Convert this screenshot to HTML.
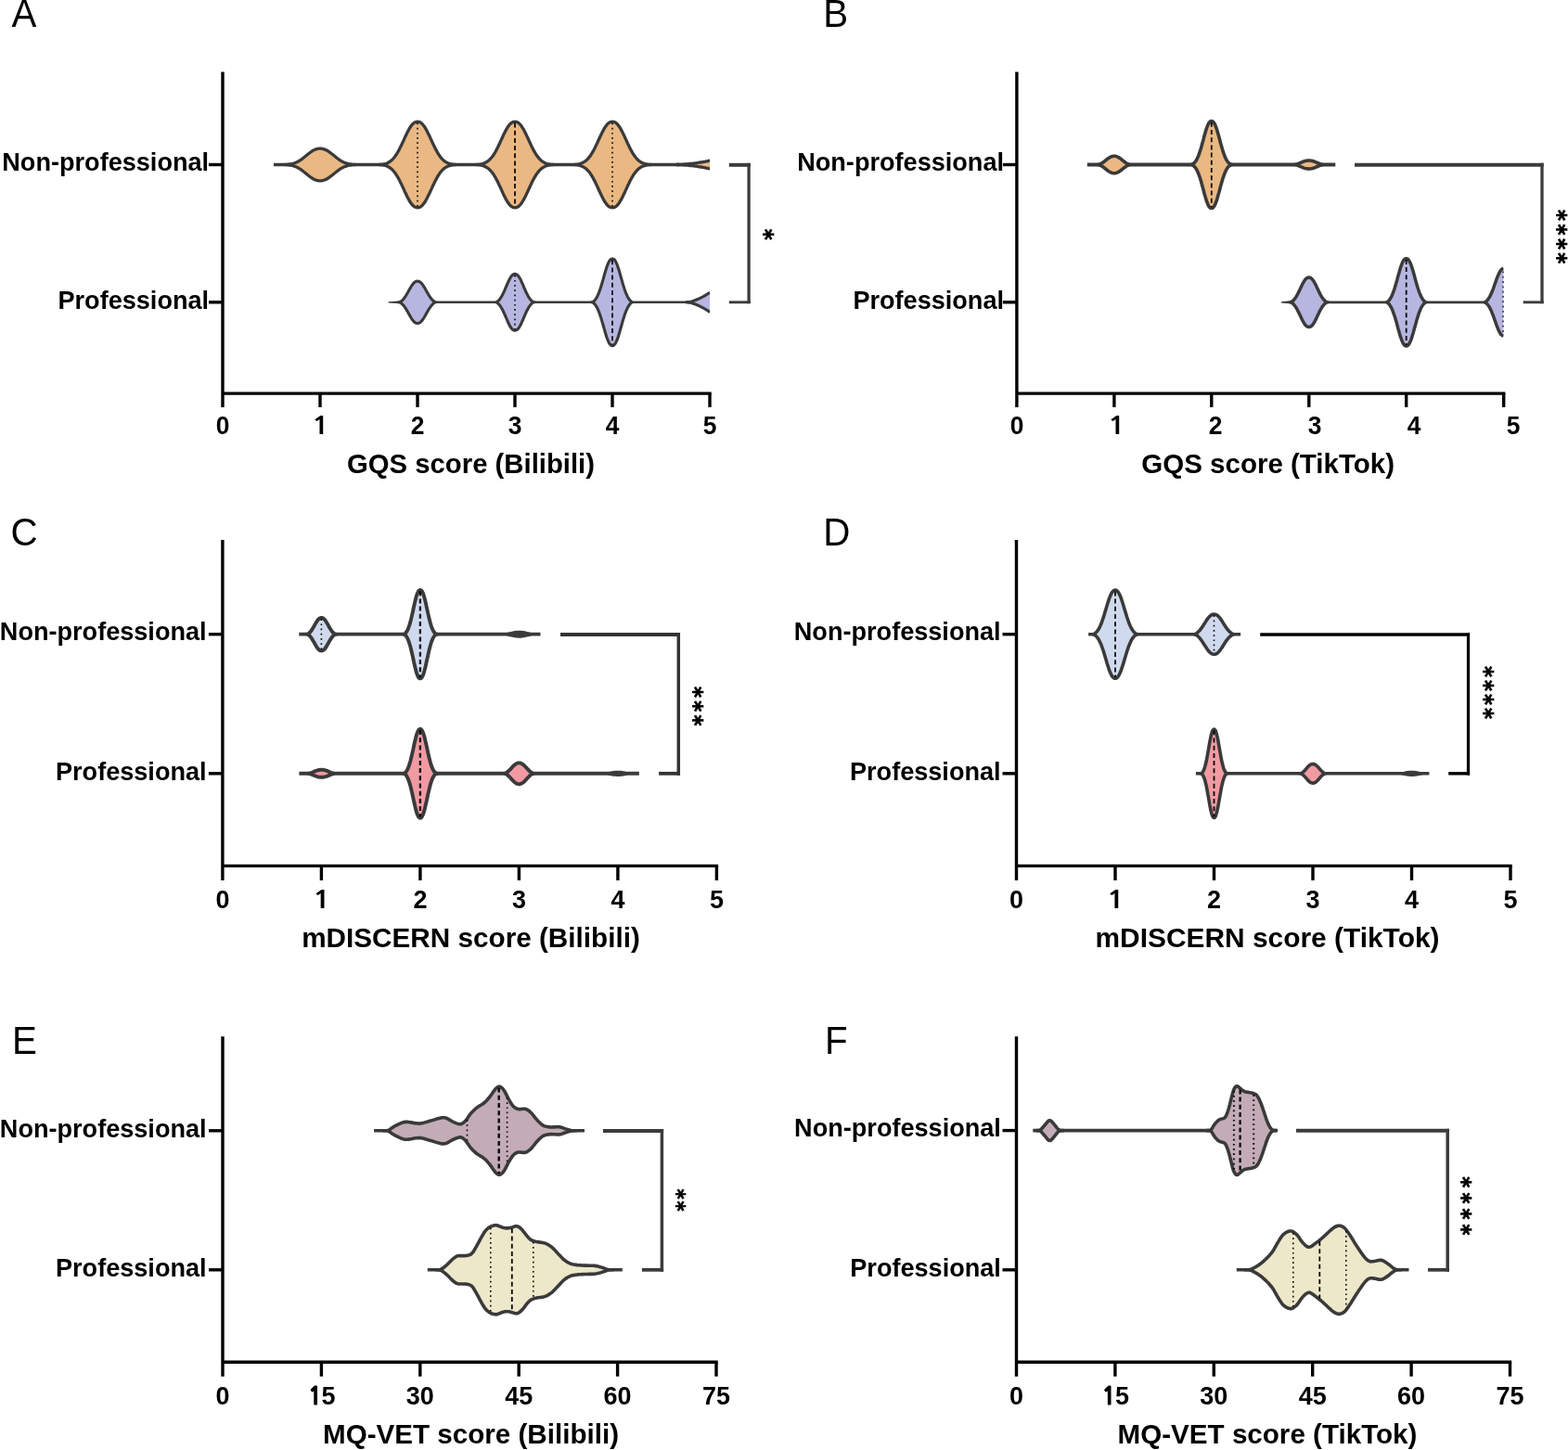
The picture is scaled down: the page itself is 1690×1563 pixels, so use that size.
<!DOCTYPE html>
<html lang="en">
<head>
<meta charset="utf-8">
<title>Violin plots</title>
<style>
html,body{margin:0;padding:0;background:#fff;}
body{width:1690px;height:1563px;overflow:hidden;}
svg{display:block;}
</style>
</head>
<body>
<svg width="1690" height="1563" viewBox="0 0 1690 1563">
<rect width="1690" height="1563" fill="#fff"/>
<g>
<line x1="240" y1="77.5" x2="240" y2="438.9" stroke="#000" stroke-width="3.4"/>
<line x1="240" y1="424.1" x2="766.7" y2="424.1" stroke="#000" stroke-width="3.4"/>
<text transform="translate(240 468) scale(1 1.05)" font-size="26.4" text-anchor="middle" font-family="Liberation Sans, Arial, Helvetica, sans-serif" font-weight="700" fill="#000">0</text>
<line x1="345" y1="424.1" x2="345" y2="438.9" stroke="#000" stroke-width="3.4"/>
<text transform="translate(334.9 468) scale(1.4 1.05)" font-family="NanumGothic, Liberation Sans, sans-serif" font-weight="700" font-size="24.9" fill="#000">1</text>
<line x1="450" y1="424.1" x2="450" y2="438.9" stroke="#000" stroke-width="3.4"/>
<text transform="translate(450 468) scale(1 1.05)" font-size="26.4" text-anchor="middle" font-family="Liberation Sans, Arial, Helvetica, sans-serif" font-weight="700" fill="#000">2</text>
<line x1="555" y1="424.1" x2="555" y2="438.9" stroke="#000" stroke-width="3.4"/>
<text transform="translate(555 468) scale(1 1.05)" font-size="26.4" text-anchor="middle" font-family="Liberation Sans, Arial, Helvetica, sans-serif" font-weight="700" fill="#000">3</text>
<line x1="660" y1="424.1" x2="660" y2="438.9" stroke="#000" stroke-width="3.4"/>
<text transform="translate(660 468) scale(1 1.05)" font-size="26.4" text-anchor="middle" font-family="Liberation Sans, Arial, Helvetica, sans-serif" font-weight="700" fill="#000">4</text>
<line x1="765" y1="424.1" x2="765" y2="438.9" stroke="#000" stroke-width="3.4"/>
<text transform="translate(765 468) scale(1 1.05)" font-size="26.4" text-anchor="middle" font-family="Liberation Sans, Arial, Helvetica, sans-serif" font-weight="700" fill="#000">5</text>
<line x1="225" y1="177.5" x2="240" y2="177.5" stroke="#000" stroke-width="3.4"/>
<text x="225.1" y="184.2" font-size="27.1" text-anchor="end" font-family="Liberation Sans, Arial, Helvetica, sans-serif" font-weight="700" fill="#000" letter-spacing="0">Non-professional</text>
<line x1="225" y1="325.8" x2="240" y2="325.8" stroke="#000" stroke-width="3.4"/>
<text x="225.1" y="332.5" font-size="27.1" text-anchor="end" font-family="Liberation Sans, Arial, Helvetica, sans-serif" font-weight="700" fill="#000" letter-spacing="0">Professional</text>
<text x="507.5" y="510.1" font-size="29.3" text-anchor="middle" font-family="Liberation Sans, Arial, Helvetica, sans-serif" font-weight="700" fill="#000" letter-spacing="0">GQS score (Bilibili)</text>
<text transform="translate(12.4 29.4) scale(0.96 1)" font-size="42" font-family="Liberation Sans, Arial, Helvetica, sans-serif" font-weight="400" fill="#000">A</text>
<line x1="295" y1="177.5" x2="765.2" y2="177.5" stroke="#3a3a3a" stroke-width="3.4"/>
<path d="M307.5 177.5L308.8 177.5L310 177.3L311.3 177.2L312.5 177L313.8 176.8L315 176.5L316.3 176.1L317.5 175.7L318.8 175.2L320 174.7L321.3 174.1L322.5 173.3L323.8 172.6L325 171.7L326.3 170.8L327.5 169.8L328.8 168.8L330 167.8L331.3 166.7L332.5 165.7L333.8 164.7L335 163.8L336.3 163L337.5 162.2L338.8 161.6L340 161.1L341.3 160.7L342.5 160.4L343.8 160.2L345 160.2L346.3 160.2L347.5 160.4L348.8 160.7L350 161.1L351.3 161.6L352.5 162.2L353.8 163L355 163.9L356.3 164.8L357.5 165.8L358.8 166.8L360 167.8L361.3 168.8L362.5 169.8L363.8 170.8L365 171.7L366.3 172.6L367.5 173.4L368.8 174.1L370 174.7L371.3 175.3L372.5 175.7L373.8 176.1L375 176.5L376.3 176.8L377.5 177L378.8 177.2L380 177.3L381.3 177.5L382.5 177.5L381.3 177.5L380 177.7L378.8 177.8L377.5 178L376.3 178.2L375 178.5L373.8 178.9L372.5 179.3L371.3 179.7L370 180.3L368.8 180.9L367.5 181.6L366.3 182.4L365 183.3L363.8 184.2L362.5 185.2L361.3 186.2L360 187.2L358.8 188.2L357.5 189.2L356.3 190.2L355 191.1L353.8 192L352.5 192.8L351.3 193.4L350 193.9L348.8 194.3L347.5 194.6L346.3 194.8L345 194.8L343.8 194.8L342.5 194.6L341.3 194.3L340 193.9L338.8 193.4L337.5 192.8L336.3 192L335 191.2L333.8 190.3L332.5 189.3L331.3 188.3L330 187.2L328.8 186.2L327.5 185.2L326.3 184.2L325 183.3L323.8 182.4L322.5 181.7L321.3 180.9L320 180.3L318.8 179.8L317.5 179.3L316.3 178.9L315 178.5L313.8 178.2L312.5 178L311.3 177.8L310 177.7L308.8 177.5Z" fill="#eab882" stroke="#3a3a3a" stroke-width="3.3" stroke-linejoin="round"/>
<path d="M408.8 177.5L410 177.4L411.3 177.3L412.6 177.1L413.8 176.9L415.1 176.6L416.3 176.2L417.6 175.7L418.8 175L420.1 174.3L421.3 173.4L422.6 172.3L423.8 171L425.1 169.5L426.3 167.8L427.6 165.9L428.8 163.9L430.1 161.6L431.3 159.1L432.6 156.6L433.8 153.9L435.1 151.2L436.3 148.4L437.6 145.7L438.8 143.1L440.1 140.7L441.3 138.5L442.6 136.5L443.8 134.8L445.1 133.4L446.3 132.4L447.6 131.7L448.8 131.3L450.1 131.2L451.3 131.3L452.6 131.7L453.8 132.5L455.1 133.6L456.3 135L457.6 136.7L458.8 138.7L460.1 141L461.3 143.4L462.6 146L463.8 148.7L465.1 151.4L466.3 154.2L467.6 156.8L468.8 159.4L470.1 161.8L471.3 164.1L472.6 166.2L473.8 168L475.1 169.7L476.3 171.1L477.6 172.4L478.8 173.5L480.1 174.4L481.3 175.1L482.6 175.7L483.8 176.2L485.1 176.6L486.3 176.9L487.6 177.1L488.8 177.3L490.1 177.5L491.3 177.5L490.1 177.5L488.8 177.7L487.6 177.9L486.3 178.1L485.1 178.4L483.8 178.8L482.6 179.3L481.3 179.9L480.1 180.6L478.8 181.5L477.6 182.6L476.3 183.9L475.1 185.3L473.8 187L472.6 188.8L471.3 190.9L470.1 193.2L468.8 195.6L467.6 198.2L466.3 200.8L465.1 203.6L463.8 206.3L462.6 209L461.3 211.6L460.1 214L458.8 216.3L457.6 218.3L456.3 220L455.1 221.4L453.8 222.5L452.6 223.3L451.3 223.7L450.1 223.8L448.8 223.7L447.6 223.3L446.3 222.6L445.1 221.6L443.8 220.2L442.6 218.5L441.3 216.5L440.1 214.3L438.8 211.9L437.6 209.3L436.3 206.6L435.1 203.8L433.8 201.1L432.6 198.4L431.3 195.9L430.1 193.4L428.8 191.1L427.6 189.1L426.3 187.2L425.1 185.5L423.8 184L422.6 182.7L421.3 181.6L420.1 180.7L418.8 180L417.6 179.3L416.3 178.8L415.1 178.4L413.8 178.1L412.6 177.9L411.3 177.7L410 177.6Z" fill="#eab882" stroke="#3a3a3a" stroke-width="3.3" stroke-linejoin="round"/>
<path d="M513.8 177.5L515.1 177.4L516.3 177.3L517.6 177.1L518.8 176.9L520.1 176.5L521.3 176.1L522.6 175.6L523.8 175L525.1 174.2L526.3 173.3L527.6 172.2L528.8 170.9L530.1 169.5L531.4 167.8L532.6 165.9L533.9 163.8L535.1 161.5L536.4 159.1L537.6 156.5L538.9 153.8L540.1 151.1L541.4 148.3L542.6 145.6L543.9 143L545.1 140.6L546.4 138.4L547.6 136.4L548.9 134.7L550.1 133.4L551.4 132.4L552.6 131.7L553.9 131.3L555.1 131.2L556.4 131.3L557.6 131.8L558.9 132.5L560.1 133.6L561.4 135L562.6 136.8L563.9 138.8L565.1 141L566.4 143.5L567.6 146.1L568.9 148.8L570.1 151.5L571.4 154.3L572.6 156.9L573.9 159.5L575.1 161.9L576.4 164.2L577.6 166.2L578.9 168.1L580.1 169.7L581.4 171.2L582.6 172.4L583.9 173.5L585.1 174.4L586.4 175.1L587.6 175.7L588.9 176.2L590.1 176.6L591.4 176.9L592.6 177.1L593.9 177.3L595.1 177.5L596.4 177.5L595.1 177.5L593.9 177.7L592.6 177.9L591.4 178.1L590.1 178.4L588.9 178.8L587.6 179.3L586.4 179.9L585.1 180.6L583.9 181.5L582.6 182.6L581.4 183.8L580.1 185.3L578.9 186.9L577.6 188.8L576.4 190.8L575.1 193.1L573.9 195.5L572.6 198.1L571.4 200.7L570.1 203.5L568.9 206.2L567.6 208.9L566.4 211.5L565.1 214L563.9 216.2L562.6 218.2L561.4 220L560.1 221.4L558.9 222.5L557.6 223.2L556.4 223.7L555.1 223.8L553.9 223.7L552.6 223.3L551.4 222.6L550.1 221.6L548.9 220.3L547.6 218.6L546.4 216.6L545.1 214.4L543.9 212L542.6 209.4L541.4 206.7L540.1 203.9L538.9 201.2L537.6 198.5L536.4 195.9L535.1 193.5L533.9 191.2L532.6 189.1L531.4 187.2L530.1 185.5L528.8 184.1L527.6 182.8L526.3 181.7L525.1 180.8L523.8 180L522.6 179.4L521.3 178.9L520.1 178.5L518.8 178.1L517.6 177.9L516.3 177.7L515.1 177.6Z" fill="#eab882" stroke="#3a3a3a" stroke-width="3.3" stroke-linejoin="round"/>
<path d="M618.9 177.5L620.1 177.4L621.4 177.3L622.6 177.1L623.9 176.9L625.1 176.5L626.4 176.1L627.6 175.6L628.9 175L630.1 174.2L631.4 173.3L632.6 172.2L633.9 170.9L635.1 169.4L636.4 167.7L637.6 165.8L638.9 163.7L640.1 161.4L641.4 159L642.6 156.4L643.9 153.7L645.1 151L646.4 148.2L647.7 145.5L648.9 143L650.2 140.5L651.4 138.3L652.7 136.4L653.9 134.7L655.2 133.3L656.4 132.3L657.7 131.6L658.9 131.3L660.2 131.2L661.4 131.3L662.7 131.8L663.9 132.5L665.2 133.6L666.4 135.1L667.7 136.8L668.9 138.8L670.2 141.1L671.4 143.6L672.7 146.2L673.9 148.9L675.2 151.6L676.4 154.4L677.7 157L678.9 159.6L680.2 162L681.4 164.2L682.7 166.3L683.9 168.1L685.2 169.8L686.4 171.2L687.7 172.5L688.9 173.5L690.2 174.4L691.4 175.2L692.7 175.8L693.9 176.2L695.2 176.6L696.4 176.9L697.7 177.2L698.9 177.3L700.2 177.5L701.4 177.5L700.2 177.5L698.9 177.7L697.7 177.8L696.4 178.1L695.2 178.4L693.9 178.8L692.7 179.2L691.4 179.8L690.2 180.6L688.9 181.5L687.7 182.5L686.4 183.8L685.2 185.2L683.9 186.9L682.7 188.7L681.4 190.8L680.2 193L678.9 195.4L677.7 198L676.4 200.6L675.2 203.4L673.9 206.1L672.7 208.8L671.4 211.4L670.2 213.9L668.9 216.2L667.7 218.2L666.4 219.9L665.2 221.4L663.9 222.5L662.7 223.2L661.4 223.7L660.2 223.8L658.9 223.7L657.7 223.4L656.4 222.7L655.2 221.7L653.9 220.3L652.7 218.6L651.4 216.7L650.2 214.5L648.9 212L647.7 209.5L646.4 206.8L645.1 204L643.9 201.3L642.6 198.6L641.4 196L640.1 193.6L638.9 191.3L637.6 189.2L636.4 187.3L635.1 185.6L633.9 184.1L632.6 182.8L631.4 181.7L630.1 180.8L628.9 180L627.6 179.4L626.4 178.9L625.1 178.5L623.9 178.1L622.6 177.9L621.4 177.7L620.1 177.6Z" fill="#eab882" stroke="#3a3a3a" stroke-width="3.3" stroke-linejoin="round"/>
<path d="M728.9 177.5L730.2 177.5L731.4 177.5L732.7 177.4L733.9 177.4L735.2 177.3L736.4 177.2L737.7 177.1L738.9 177L740.2 176.9L741.4 176.8L742.7 176.7L743.9 176.5L745.2 176.4L746.4 176.3L747.7 176.1L748.9 175.9L750.2 175.8L751.4 175.6L752.7 175.4L753.9 175.2L755.2 175L756.4 174.8L757.7 174.6L758.9 174.4L760.2 174.2L761.4 173.9L762.7 173.7L763.9 173.4L765.2 173.2L765.2 181.8L763.9 181.6L762.7 181.3L761.4 181.1L760.2 180.8L758.9 180.6L757.7 180.4L756.4 180.2L755.2 180L753.9 179.8L752.7 179.6L751.4 179.4L750.2 179.2L748.9 179.1L747.7 178.9L746.4 178.7L745.2 178.6L743.9 178.5L742.7 178.3L741.4 178.2L740.2 178.1L738.9 178L737.7 177.9L736.4 177.8L735.2 177.7L733.9 177.6L732.7 177.6L731.4 177.5L730.2 177.5L728.9 177.5Z" fill="#eab882"/>
<path d="M728.9 177.5L730.2 177.5L731.4 177.5L732.7 177.4L733.9 177.4L735.2 177.3L736.4 177.2L737.7 177.1L738.9 177L740.2 176.9L741.4 176.8L742.7 176.7L743.9 176.5L745.2 176.4L746.4 176.3L747.7 176.1L748.9 175.9L750.2 175.8L751.4 175.6L752.7 175.4L753.9 175.2L755.2 175L756.4 174.8L757.7 174.6L758.9 174.4L760.2 174.2L761.4 173.9L762.7 173.7L763.9 173.4L765.2 173.2" fill="none" stroke="#3a3a3a" stroke-width="3.3" stroke-linejoin="round"/>
<path d="M728.9 177.5L730.2 177.5L731.4 177.5L732.7 177.6L733.9 177.6L735.2 177.7L736.4 177.8L737.7 177.9L738.9 178L740.2 178.1L741.4 178.2L742.7 178.3L743.9 178.5L745.2 178.6L746.4 178.7L747.7 178.9L748.9 179.1L750.2 179.2L751.4 179.4L752.7 179.6L753.9 179.8L755.2 180L756.4 180.2L757.7 180.4L758.9 180.6L760.2 180.8L761.4 181.1L762.7 181.3L763.9 181.6L765.2 181.8" fill="none" stroke="#3a3a3a" stroke-width="3.3" stroke-linejoin="round"/>
<rect x="765.2" y="168.2" width="4" height="18.6" fill="#fff"/>
<line x1="450" y1="132.5" x2="450" y2="222.5" stroke="#0a0a0a" stroke-width="1.6" stroke-dasharray="1.7 3.5"/>
<line x1="555" y1="132.5" x2="555" y2="222.5" stroke="#0a0a0a" stroke-width="1.8" stroke-dasharray="5 3.2"/>
<line x1="660" y1="132.5" x2="660" y2="222.5" stroke="#0a0a0a" stroke-width="1.6" stroke-dasharray="1.7 3.5"/>
<path d="M418.5 325.2L431.8 324.3L431.8 327.3L418.5 326.4Z" fill="#3a3a3a"/>
<line x1="429.8" y1="325.8" x2="765.2" y2="325.8" stroke="#3a3a3a" stroke-width="2.4"/>
<path d="M429.8 325.8L431 325.7L432.3 324.9L433.5 323.8L434.8 322.5L436 320.9L437.3 319.1L438.5 317L439.8 314.8L441 312.5L442.3 310.3L443.5 308.3L444.8 306.5L446 305L447.3 303.9L448.5 303.3L449.8 303.1L451 303.2L452.3 303.7L453.5 304.6L454.8 305.9L456 307.6L457.3 309.6L458.6 311.8L459.8 314.1L461.1 316.3L462.3 318.4L463.6 320.3L464.8 322L466.1 323.4L467.3 324.6L468.6 325.5L469.8 325.8L468.6 326.1L467.3 327L466.1 328.2L464.8 329.6L463.6 331.3L462.3 333.2L461.1 335.3L459.8 337.5L458.6 339.8L457.3 342L456 344L454.8 345.7L453.5 347L452.3 347.9L451 348.4L449.8 348.5L448.5 348.3L447.3 347.7L446 346.6L444.8 345.1L443.5 343.3L442.3 341.3L441 339.1L439.8 336.8L438.5 334.6L437.3 332.5L436 330.7L434.8 329.1L433.5 327.8L432.3 326.7L431 325.9Z" fill="#b7b6e1" stroke="#3a3a3a" stroke-width="3.1" stroke-linejoin="round"/>
<path d="M534.9 325.8L536.2 325L537.4 323.9L538.7 322.4L539.9 320.6L541.2 318.5L542.4 316.1L543.7 313.3L544.9 310.4L546.2 307.5L547.4 304.6L548.7 301.9L549.9 299.6L551.2 297.7L552.4 296.4L553.7 295.6L554.9 295.4L556.2 295.6L557.4 296.3L558.7 297.5L559.9 299.3L561.2 301.6L562.4 304.3L563.7 307.1L564.9 310.1L566.2 313L567.4 315.8L568.7 318.2L569.9 320.4L571.2 322.2L572.4 323.7L573.7 324.9L575 325.8L576.2 325.8L575 325.8L573.7 326.7L572.4 327.9L571.2 329.4L569.9 331.2L568.7 333.4L567.4 335.8L566.2 338.6L564.9 341.5L563.7 344.5L562.4 347.3L561.2 350L559.9 352.3L558.7 354.1L557.4 355.3L556.2 356L554.9 356.2L553.7 356L552.4 355.2L551.2 353.9L549.9 352L548.7 349.7L547.4 347L546.2 344.1L544.9 341.2L543.7 338.3L542.4 335.5L541.2 333.1L539.9 331L538.7 329.2L537.4 327.7L536.2 326.6Z" fill="#b7b6e1" stroke="#3a3a3a" stroke-width="3.1" stroke-linejoin="round"/>
<path d="M637.5 325.8L638.8 325.7L640 324.8L641.3 323.5L642.5 321.7L643.8 319.5L645 316.7L646.3 313.4L647.5 309.7L648.8 305.5L650.1 301.1L651.3 296.7L652.6 292.3L653.8 288.3L655.1 284.9L656.3 282.1L657.6 280.2L658.8 279.2L660.1 278.9L661.3 279.2L662.6 280.4L663.8 282.4L665.1 285.2L666.3 288.7L667.6 292.8L668.8 297.1L670.1 301.6L671.3 306L672.6 310.1L673.8 313.8L675.1 317L676.3 319.7L677.6 321.9L678.8 323.6L680.1 324.9L681.3 325.8L680.1 326.7L678.8 328L677.6 329.7L676.3 331.9L675.1 334.6L673.8 337.8L672.6 341.5L671.3 345.6L670.1 350L668.8 354.5L667.6 358.8L666.3 362.9L665.1 366.4L663.8 369.2L662.6 371.2L661.3 372.4L660.1 372.7L658.8 372.4L657.6 371.4L656.3 369.5L655.1 366.7L653.8 363.3L652.6 359.3L651.3 354.9L650.1 350.5L648.8 346.1L647.5 341.9L646.3 338.2L645 334.9L643.8 332.1L642.5 329.9L641.3 328.1L640 326.8L638.8 325.9Z" fill="#b7b6e1" stroke="#3a3a3a" stroke-width="3.1" stroke-linejoin="round"/>
<path d="M738.9 325.8L740.2 325.8L741.4 325.7L742.7 325.5L743.9 325.3L745.2 325L746.4 324.6L747.7 324.2L748.9 323.8L750.2 323.3L751.4 322.8L752.7 322.3L753.9 321.7L755.2 321.1L756.4 320.4L757.7 319.8L758.9 319.1L760.2 318.4L761.4 317.6L762.7 316.8L763.9 316L765.2 315.2L765.2 336.4L763.9 335.6L762.7 334.8L761.4 334L760.2 333.2L758.9 332.5L757.7 331.8L756.4 331.2L755.2 330.5L753.9 329.9L752.7 329.3L751.4 328.8L750.2 328.3L748.9 327.8L747.7 327.4L746.4 327L745.2 326.6L743.9 326.3L742.7 326.1L741.4 325.9L740.2 325.8L738.9 325.8Z" fill="#b7b6e1"/>
<path d="M738.9 325.8L740.2 325.8L741.4 325.7L742.7 325.5L743.9 325.3L745.2 325L746.4 324.6L747.7 324.2L748.9 323.8L750.2 323.3L751.4 322.8L752.7 322.3L753.9 321.7L755.2 321.1L756.4 320.4L757.7 319.8L758.9 319.1L760.2 318.4L761.4 317.6L762.7 316.8L763.9 316L765.2 315.2" fill="none" stroke="#3a3a3a" stroke-width="3.1" stroke-linejoin="round"/>
<path d="M738.9 325.8L740.2 325.8L741.4 325.9L742.7 326.1L743.9 326.3L745.2 326.6L746.4 327L747.7 327.4L748.9 327.8L750.2 328.3L751.4 328.8L752.7 329.3L753.9 329.9L755.2 330.5L756.4 331.2L757.7 331.8L758.9 332.5L760.2 333.2L761.4 334L762.7 334.8L763.9 335.6L765.2 336.4" fill="none" stroke="#3a3a3a" stroke-width="3.1" stroke-linejoin="round"/>
<rect x="765.2" y="310.2" width="4" height="31.2" fill="#fff"/>
<line x1="555" y1="296.7" x2="555" y2="354.9" stroke="#0a0a0a" stroke-width="1.6" stroke-dasharray="1.7 3.5"/>
<line x1="660" y1="280.2" x2="660" y2="371.4" stroke="#0a0a0a" stroke-width="1.8" stroke-dasharray="5 3.2"/>
<line x1="807.1" y1="175.8" x2="807.1" y2="327.2" stroke="#3c3c3c" stroke-width="3.3"/>
<line x1="785.8" y1="177.8" x2="808.8" y2="177.8" stroke="#3c3c3c" stroke-width="4"/>
<line x1="785.8" y1="325.8" x2="808.8" y2="325.8" stroke="#3c3c3c" stroke-width="2.9"/>
<text transform="translate(815.8 246.7) rotate(90) scale(0.95 1.04)" font-family="DejaVu Sans, Liberation Sans, sans-serif" font-weight="700" font-size="24.2" letter-spacing="3.13" fill="#000" stroke="#000" stroke-width="0.7">*</text>
</g>
<g>
<line x1="1095.9" y1="77.5" x2="1095.9" y2="438.9" stroke="#000" stroke-width="3.4"/>
<line x1="1095.9" y1="424.1" x2="1622.4" y2="424.1" stroke="#000" stroke-width="3.4"/>
<text transform="translate(1096 468) scale(1 1.05)" font-size="26.4" text-anchor="middle" font-family="Liberation Sans, Arial, Helvetica, sans-serif" font-weight="700" fill="#000">0</text>
<line x1="1200.9" y1="424.1" x2="1200.9" y2="438.9" stroke="#000" stroke-width="3.4"/>
<text transform="translate(1192.9 468) scale(1.4 1.05)" font-family="NanumGothic, Liberation Sans, sans-serif" font-weight="700" font-size="24.9" fill="#000">1</text>
<line x1="1305.8" y1="424.1" x2="1305.8" y2="438.9" stroke="#000" stroke-width="3.4"/>
<text transform="translate(1310 468) scale(1 1.05)" font-size="26.4" text-anchor="middle" font-family="Liberation Sans, Arial, Helvetica, sans-serif" font-weight="700" fill="#000">2</text>
<line x1="1410.8" y1="424.1" x2="1410.8" y2="438.9" stroke="#000" stroke-width="3.4"/>
<text transform="translate(1417 468) scale(1 1.05)" font-size="26.4" text-anchor="middle" font-family="Liberation Sans, Arial, Helvetica, sans-serif" font-weight="700" fill="#000">3</text>
<line x1="1515.7" y1="424.1" x2="1515.7" y2="438.9" stroke="#000" stroke-width="3.4"/>
<text transform="translate(1524 468) scale(1 1.05)" font-size="26.4" text-anchor="middle" font-family="Liberation Sans, Arial, Helvetica, sans-serif" font-weight="700" fill="#000">4</text>
<line x1="1620.7" y1="424.1" x2="1620.7" y2="438.9" stroke="#000" stroke-width="3.4"/>
<text transform="translate(1631 468) scale(1 1.05)" font-size="26.4" text-anchor="middle" font-family="Liberation Sans, Arial, Helvetica, sans-serif" font-weight="700" fill="#000">5</text>
<line x1="1080.9" y1="177.5" x2="1095.9" y2="177.5" stroke="#000" stroke-width="3.4"/>
<text x="1082" y="184.2" font-size="27.1" text-anchor="end" font-family="Liberation Sans, Arial, Helvetica, sans-serif" font-weight="700" fill="#000" letter-spacing="0">Non-professional</text>
<line x1="1080.9" y1="325.8" x2="1095.9" y2="325.8" stroke="#000" stroke-width="3.4"/>
<text x="1082" y="332.5" font-size="27.1" text-anchor="end" font-family="Liberation Sans, Arial, Helvetica, sans-serif" font-weight="700" fill="#000" letter-spacing="0">Professional</text>
<text x="1366.7" y="510.1" font-size="29.5" text-anchor="middle" font-family="Liberation Sans, Arial, Helvetica, sans-serif" font-weight="700" fill="#000" letter-spacing="0">GQS score (TikTok)</text>
<text transform="translate(887.2 29.4) scale(0.96 1)" font-size="42" font-family="Liberation Sans, Arial, Helvetica, sans-serif" font-weight="400" fill="#000">B</text>
<line x1="1171.8" y1="177.5" x2="1439.3" y2="177.5" stroke="#3a3a3a" stroke-width="4.1"/>
<path d="M1183 177.5L1184.3 177.5L1185.5 177L1186.8 176.4L1188 175.6L1189.3 174.8L1190.5 173.8L1191.8 172.8L1193 171.8L1194.3 170.8L1195.5 170L1196.8 169.3L1198 168.7L1199.3 168.4L1200.5 168.3L1201.8 168.3L1203 168.6L1204.3 169L1205.5 169.6L1206.8 170.4L1208 171.3L1209.3 172.3L1210.5 173.3L1211.8 174.3L1213 175.2L1214.3 176L1215.5 176.7L1216.8 177.3L1218 177.5L1216.8 177.7L1215.5 178.3L1214.3 179L1213 179.8L1211.8 180.7L1210.5 181.7L1209.3 182.7L1208 183.7L1206.8 184.6L1205.5 185.4L1204.3 186L1203 186.4L1201.8 186.7L1200.5 186.7L1199.3 186.6L1198 186.3L1196.8 185.7L1195.5 185L1194.3 184.2L1193 183.2L1191.8 182.2L1190.5 181.2L1189.3 180.2L1188 179.4L1186.8 178.6L1185.5 178L1184.3 177.5Z" fill="#eab882" stroke="#3a3a3a" stroke-width="3.6" stroke-linejoin="round"/>
<path d="M1284.3 177.5L1285.5 177L1286.8 176L1288 174.7L1289.3 172.9L1290.5 170.6L1291.8 167.7L1293 164.2L1294.3 160.2L1295.5 155.8L1296.8 151.2L1298 146.5L1299.3 142L1300.5 138.1L1301.8 134.8L1303 132.4L1304.3 131L1305.5 130.5L1306.8 130.7L1308 131.8L1309.3 133.8L1310.5 136.7L1311.8 140.4L1313 144.7L1314.3 149.3L1315.5 154L1316.8 158.5L1318 162.7L1319.3 166.4L1320.5 169.5L1321.8 172.1L1323 174.1L1324.3 175.6L1325.5 176.6L1326.8 177.4L1328 177.5L1326.8 177.6L1325.5 178.4L1324.3 179.4L1323 180.9L1321.8 182.9L1320.5 185.5L1319.3 188.6L1318 192.3L1316.8 196.5L1315.5 201L1314.3 205.7L1313 210.3L1311.8 214.6L1310.5 218.3L1309.3 221.2L1308 223.2L1306.8 224.3L1305.5 224.5L1304.3 224L1303 222.6L1301.8 220.2L1300.5 216.9L1299.3 213L1298 208.5L1296.8 203.8L1295.5 199.2L1294.3 194.8L1293 190.8L1291.8 187.3L1290.5 184.4L1289.3 182.1L1288 180.3L1286.8 179L1285.5 178Z" fill="#eab882" stroke="#3a3a3a" stroke-width="3.6" stroke-linejoin="round"/>
<path d="M1395.5 177.5L1396.8 177.4L1398 177L1399.3 176.5L1400.5 176L1401.8 175.4L1403 174.9L1404.3 174.3L1405.5 173.9L1406.8 173.5L1408 173.2L1409.3 173.1L1410.5 173L1411.8 173L1413 173.2L1414.3 173.4L1415.5 173.7L1416.8 174.2L1418 174.7L1419.3 175.2L1420.5 175.8L1421.8 176.3L1423 176.8L1424.3 177.3L1425.5 177.5L1424.3 177.7L1423 178.2L1421.8 178.7L1420.5 179.2L1419.3 179.8L1418 180.3L1416.8 180.8L1415.5 181.3L1414.3 181.6L1413 181.8L1411.8 182L1410.5 182L1409.3 181.9L1408 181.8L1406.8 181.5L1405.5 181.1L1404.3 180.7L1403 180.1L1401.8 179.6L1400.5 179L1399.3 178.5L1398 178L1396.8 177.6Z" fill="#eab882" stroke="#3a3a3a" stroke-width="3.6" stroke-linejoin="round"/>
<line x1="1305.8" y1="131.8" x2="1305.8" y2="223.2" stroke="#0a0a0a" stroke-width="1.8" stroke-dasharray="5 3.2"/>
<path d="M1380.8 325.2L1392.8 324.1L1392.8 327.5L1380.8 326.4Z" fill="#3a3a3a"/>
<line x1="1390.8" y1="325.8" x2="1620.6" y2="325.8" stroke="#3a3a3a" stroke-width="2.7"/>
<path d="M1390.8 325.8L1392 325.5L1393.3 324.5L1394.5 323.3L1395.8 321.7L1397 319.9L1398.3 317.7L1399.5 315.2L1400.8 312.6L1402 310L1403.3 307.3L1404.5 304.9L1405.8 302.8L1407 301.1L1408.3 299.9L1409.5 299.3L1410.8 299.1L1412 299.3L1413.3 300L1414.5 301.2L1415.8 302.9L1417 305L1418.3 307.4L1419.5 310.1L1420.8 312.7L1422 315.4L1423.3 317.8L1424.5 319.9L1425.8 321.8L1427 323.3L1428.3 324.6L1429.5 325.5L1430.8 325.8L1429.5 326.1L1428.3 327L1427 328.3L1425.8 329.8L1424.5 331.7L1423.3 333.8L1422 336.2L1420.8 338.9L1419.5 341.5L1418.3 344.2L1417 346.6L1415.8 348.7L1414.5 350.4L1413.3 351.6L1412 352.3L1410.8 352.5L1409.5 352.3L1408.3 351.7L1407 350.5L1405.8 348.8L1404.5 346.7L1403.3 344.3L1402 341.6L1400.8 339L1399.5 336.4L1398.3 333.9L1397 331.7L1395.8 329.9L1394.5 328.3L1393.3 327.1L1392 326.1Z" fill="#b7b6e1" stroke="#3a3a3a" stroke-width="3.5" stroke-linejoin="round"/>
<path d="M1494.5 325.8L1495.7 325.2L1497 324L1498.2 322.3L1499.5 320.2L1500.7 317.6L1501.9 314.3L1503.2 310.6L1504.4 306.5L1505.7 302L1506.9 297.4L1508.2 292.9L1509.4 288.7L1510.7 285.1L1511.9 282.2L1513.2 280.1L1514.4 278.9L1515.7 278.6L1516.9 278.9L1518.2 280.1L1519.4 282.1L1520.7 285L1521.9 288.6L1523.2 292.8L1524.4 297.3L1525.7 301.9L1526.9 306.4L1528.2 310.5L1529.4 314.3L1530.7 317.5L1531.9 320.2L1533.2 322.3L1534.4 323.9L1535.7 325.2L1536.9 325.8L1535.7 326.4L1534.4 327.7L1533.2 329.3L1531.9 331.4L1530.7 334.1L1529.4 337.3L1528.2 341.1L1526.9 345.2L1525.7 349.7L1524.4 354.3L1523.2 358.8L1521.9 363L1520.7 366.6L1519.4 369.5L1518.2 371.5L1516.9 372.7L1515.7 373L1514.4 372.7L1513.2 371.5L1511.9 369.4L1510.7 366.5L1509.4 362.9L1508.2 358.7L1506.9 354.2L1505.7 349.6L1504.4 345.1L1503.2 341L1501.9 337.3L1500.7 334L1499.5 331.4L1498.2 329.3L1497 327.6L1495.7 326.4Z" fill="#b7b6e1" stroke="#3a3a3a" stroke-width="3.5" stroke-linejoin="round"/>
<path d="M1599.4 325.8L1600.6 325.8L1601.9 324.8L1603.1 323.6L1604.4 321.9L1605.6 319.9L1606.9 317.4L1608.1 314.5L1609.4 311.3L1610.6 307.8L1611.9 304.2L1613.1 300.7L1614.4 297.5L1615.6 294.6L1616.9 292.3L1618.1 290.7L1619.4 289.8L1620.6 289.5L1620.6 362.1L1619.4 361.8L1618.1 360.9L1616.9 359.3L1615.6 357L1614.4 354.1L1613.1 350.9L1611.9 347.4L1610.6 343.8L1609.4 340.3L1608.1 337.1L1606.9 334.2L1605.6 331.7L1604.4 329.7L1603.1 328L1601.9 326.8L1600.6 325.8L1599.4 325.8Z" fill="#b7b6e1"/>
<path d="M1599.4 325.8L1600.6 325.8L1601.9 324.8L1603.1 323.6L1604.4 321.9L1605.6 319.9L1606.9 317.4L1608.1 314.5L1609.4 311.3L1610.6 307.8L1611.9 304.2L1613.1 300.7L1614.4 297.5L1615.6 294.6L1616.9 292.3L1618.1 290.7L1619.4 289.8L1620.6 289.5" fill="none" stroke="#3a3a3a" stroke-width="3.5" stroke-linejoin="round"/>
<path d="M1599.4 325.8L1600.6 325.8L1601.9 326.8L1603.1 328L1604.4 329.7L1605.6 331.7L1606.9 334.2L1608.1 337.1L1609.4 340.3L1610.6 343.8L1611.9 347.4L1613.1 350.9L1614.4 354.1L1615.6 357L1616.9 359.3L1618.1 360.9L1619.4 361.8L1620.6 362.1" fill="none" stroke="#3a3a3a" stroke-width="3.5" stroke-linejoin="round"/>
<rect x="1620.6" y="284.5" width="4" height="82.6" fill="#fff"/>
<line x1="1515.7" y1="279.9" x2="1515.7" y2="371.7" stroke="#0a0a0a" stroke-width="1.8" stroke-dasharray="5 3.2"/>
<line x1="1620" y1="292.5" x2="1620" y2="361.1" stroke="#2a2a33" stroke-width="1.5" stroke-dasharray="1.8 3.5"/>
<line x1="1662" y1="175.8" x2="1662" y2="327.2" stroke="#3c3c3c" stroke-width="3.3"/>
<line x1="1460" y1="177.8" x2="1663.7" y2="177.8" stroke="#3c3c3c" stroke-width="4"/>
<line x1="1641.7" y1="325.8" x2="1663.7" y2="325.8" stroke="#3c3c3c" stroke-width="2.9"/>
<text transform="translate(1671 226) rotate(90) scale(0.95 1.04)" font-family="DejaVu Sans, Liberation Sans, sans-serif" font-weight="700" font-size="24.2" letter-spacing="3.62" fill="#000" stroke="#000" stroke-width="0.7">****</text>
</g>
<g>
<line x1="239.9" y1="582.1" x2="239.9" y2="949" stroke="#000" stroke-width="3.4"/>
<line x1="239.9" y1="933.4" x2="774.1" y2="933.4" stroke="#000" stroke-width="3.4"/>
<text transform="translate(239.9 979.1) scale(1 1.05)" font-size="27" text-anchor="middle" font-family="Liberation Sans, Arial, Helvetica, sans-serif" font-weight="700" fill="#000">0</text>
<line x1="346.4" y1="933.4" x2="346.4" y2="949" stroke="#000" stroke-width="3.4"/>
<text transform="translate(336.1 979.1) scale(1.4 1.05)" font-family="NanumGothic, Liberation Sans, sans-serif" font-weight="700" font-size="25.4" fill="#000">1</text>
<line x1="452.9" y1="933.4" x2="452.9" y2="949" stroke="#000" stroke-width="3.4"/>
<text transform="translate(452.9 979.1) scale(1 1.05)" font-size="27" text-anchor="middle" font-family="Liberation Sans, Arial, Helvetica, sans-serif" font-weight="700" fill="#000">2</text>
<line x1="559.4" y1="933.4" x2="559.4" y2="949" stroke="#000" stroke-width="3.4"/>
<text transform="translate(559.4 979.1) scale(1 1.05)" font-size="27" text-anchor="middle" font-family="Liberation Sans, Arial, Helvetica, sans-serif" font-weight="700" fill="#000">3</text>
<line x1="665.9" y1="933.4" x2="665.9" y2="949" stroke="#000" stroke-width="3.4"/>
<text transform="translate(665.9 979.1) scale(1 1.05)" font-size="27" text-anchor="middle" font-family="Liberation Sans, Arial, Helvetica, sans-serif" font-weight="700" fill="#000">4</text>
<line x1="772.4" y1="933.4" x2="772.4" y2="949" stroke="#000" stroke-width="3.4"/>
<text transform="translate(772.4 979.1) scale(1 1.05)" font-size="27" text-anchor="middle" font-family="Liberation Sans, Arial, Helvetica, sans-serif" font-weight="700" fill="#000">5</text>
<line x1="224.9" y1="683.7" x2="239.9" y2="683.7" stroke="#000" stroke-width="3.4"/>
<text x="222.6" y="690.4" font-size="27.1" text-anchor="end" font-family="Liberation Sans, Arial, Helvetica, sans-serif" font-weight="700" fill="#000" letter-spacing="0">Non-professional</text>
<line x1="224.9" y1="833.8" x2="239.9" y2="833.8" stroke="#000" stroke-width="3.4"/>
<text x="222.6" y="840.5" font-size="27.1" text-anchor="end" font-family="Liberation Sans, Arial, Helvetica, sans-serif" font-weight="700" fill="#000" letter-spacing="0">Professional</text>
<text x="507.5" y="1021" font-size="29.7" text-anchor="middle" font-family="Liberation Sans, Arial, Helvetica, sans-serif" font-weight="700" fill="#000" letter-spacing="0">mDISCERN score (Bilibili)</text>
<text transform="translate(11.5 588.2) scale(0.96 1)" font-size="42" font-family="Liberation Sans, Arial, Helvetica, sans-serif" font-weight="400" fill="#000">C</text>
<line x1="322.3" y1="683.7" x2="582.5" y2="683.7" stroke="#3a3a3a" stroke-width="3.8"/>
<path d="M331.1 683.7L332.3 683.2L333.6 682.1L334.8 680.8L336.1 679L337.3 677L338.6 674.8L339.8 672.6L341.1 670.4L342.3 668.6L343.6 667.1L344.8 666.3L346.1 665.9L347.3 666L348.6 666.6L349.8 667.7L351.1 669.4L352.3 671.4L353.6 673.6L354.8 675.9L356.1 678L357.3 679.9L358.6 681.5L359.8 682.7L361.1 683.6L362.3 683.7L361.1 683.8L359.8 684.7L358.6 685.9L357.3 687.5L356.1 689.4L354.8 691.5L353.6 693.8L352.3 696L351.1 698L349.8 699.7L348.6 700.8L347.3 701.4L346.1 701.5L344.8 701.1L343.6 700.3L342.3 698.8L341.1 697L339.8 694.8L338.6 692.6L337.3 690.4L336.1 688.4L334.8 686.6L333.6 685.3L332.3 684.2Z" fill="#d0daee" stroke="#3a3a3a" stroke-width="3.9" stroke-linejoin="round"/>
<path d="M434.9 683.7L436.1 683.4L437.4 682.2L438.6 680.4L439.9 677.8L441.1 674.4L442.4 670.1L443.6 665.1L444.9 659.5L446.1 653.7L447.4 648.1L448.6 643.3L449.9 639.5L451.1 637L452.4 636L453.7 636.1L454.9 637.4L456.2 640.1L457.4 644.2L458.7 649.2L459.9 654.9L461.2 660.6L462.4 666.1L463.7 671L464.9 675.1L466.2 678.4L467.4 680.8L468.7 682.5L469.9 683.6L471.2 683.7L469.9 683.8L468.7 684.9L467.4 686.6L466.2 689L464.9 692.3L463.7 696.4L462.4 701.3L461.2 706.8L459.9 712.5L458.7 718.2L457.4 723.2L456.2 727.3L454.9 730L453.7 731.3L452.4 731.4L451.1 730.4L449.9 727.9L448.6 724.1L447.4 719.3L446.1 713.7L444.9 707.9L443.6 702.3L442.4 697.3L441.1 693L439.9 689.6L438.6 687L437.4 685.2L436.1 684Z" fill="#d0daee" stroke="#3a3a3a" stroke-width="3.9" stroke-linejoin="round"/>
<path d="M547.5 683.7L548.7 683.4L550 683.1L551.2 682.8L552.5 682.5L553.7 682.3L555 682L556.2 681.9L557.5 681.8L558.7 681.7L560 681.7L561.2 681.7L562.5 681.9L563.7 682L565 682.2L566.2 682.5L567.5 682.8L568.7 683.1L570 683.4L571.2 683.7L570 684L568.7 684.3L567.5 684.6L566.2 684.9L565 685.2L563.7 685.4L562.5 685.5L561.2 685.7L560 685.7L558.7 685.7L557.5 685.6L556.2 685.5L555 685.4L553.7 685.1L552.5 684.9L551.2 684.6L550 684.3L548.7 684Z" fill="#d0daee" stroke="#3a3a3a" stroke-width="3.9" stroke-linejoin="round"/>
<line x1="346.4" y1="667.2" x2="346.4" y2="700.2" stroke="#0a0a0a" stroke-width="1.6" stroke-dasharray="1.7 3.5"/>
<line x1="452.9" y1="637.2" x2="452.9" y2="730.2" stroke="#0a0a0a" stroke-width="2.3" stroke-dasharray="5 3.2"/>
<line x1="322.4" y1="833.8" x2="688.9" y2="833.8" stroke="#3a3a3a" stroke-width="4.0"/>
<path d="M332.4 833.8L333.7 833.7L334.9 833.2L336.2 832.7L337.4 832.2L338.7 831.6L339.9 831.1L341.2 830.7L342.4 830.3L343.7 830L344.9 829.9L346.2 829.8L347.4 829.8L348.7 829.9L349.9 830.2L351.2 830.5L352.4 830.9L353.7 831.4L354.9 832L356.2 832.5L357.4 833L358.7 833.5L359.9 833.8L358.7 834.1L357.4 834.6L356.2 835.1L354.9 835.6L353.7 836.2L352.4 836.7L351.2 837.1L349.9 837.4L348.7 837.7L347.4 837.8L346.2 837.8L344.9 837.7L343.7 837.6L342.4 837.3L341.2 836.9L339.9 836.5L338.7 836L337.4 835.4L336.2 834.9L334.9 834.4L333.7 833.9Z" fill="#f19aa2" stroke="#3a3a3a" stroke-width="3.9" stroke-linejoin="round"/>
<path d="M435 833.8L436.2 833.4L437.5 832.2L438.7 830.3L440 827.6L441.2 824.2L442.5 819.8L443.7 814.7L445 809.1L446.2 803.3L447.5 797.7L448.7 792.9L450 789.2L451.2 786.8L452.5 785.8L453.7 786L455 787.5L456.2 790.3L457.5 794.4L458.7 799.6L460 805.2L461.2 811L462.5 816.5L463.7 821.4L465 825.5L466.2 828.6L467.5 831L468.7 832.6L470 833.7L471.3 833.8L470 833.9L468.7 835L467.5 836.6L466.2 839L465 842.1L463.7 846.2L462.5 851.1L461.2 856.6L460 862.4L458.7 868L457.5 873.2L456.2 877.3L455 880.1L453.7 881.6L452.5 881.8L451.2 880.8L450 878.4L448.7 874.7L447.5 869.9L446.2 864.3L445 858.5L443.7 852.9L442.5 847.8L441.2 843.4L440 840L438.7 837.3L437.5 835.4L436.2 834.2Z" fill="#f19aa2" stroke="#3a3a3a" stroke-width="3.9" stroke-linejoin="round"/>
<path d="M543.8 833.8L545.1 833.4L546.3 832.6L547.6 831.6L548.8 830.4L550.1 829.2L551.3 827.8L552.6 826.4L553.8 825.2L555.1 824.1L556.3 823.2L557.6 822.7L558.8 822.4L560.1 822.4L561.3 822.7L562.6 823.3L563.8 824.1L565.1 825.2L566.3 826.5L567.6 827.9L568.8 829.2L570.1 830.5L571.3 831.7L572.6 832.6L573.8 833.4L575.1 833.8L573.8 834.2L572.6 835L571.3 835.9L570.1 837.1L568.8 838.4L567.6 839.7L566.3 841.1L565.1 842.4L563.8 843.5L562.6 844.3L561.3 844.9L560.1 845.2L558.8 845.2L557.6 844.9L556.3 844.4L555.1 843.5L553.8 842.4L552.6 841.2L551.3 839.8L550.1 838.4L548.8 837.2L547.6 836L546.3 835L545.1 834.2Z" fill="#f19aa2" stroke="#3a3a3a" stroke-width="3.9" stroke-linejoin="round"/>
<path d="M656.4 833.8L657.6 833.6L658.9 833.4L660.1 833.1L661.4 832.9L662.6 832.8L663.9 832.7L665.1 832.6L666.4 832.6L667.6 832.6L668.9 832.7L670.1 832.9L671.4 833.1L672.6 833.3L673.9 833.6L675.1 833.8L673.9 834L672.6 834.3L671.4 834.5L670.1 834.7L668.9 834.9L667.6 835L666.4 835L665.1 835L663.9 834.9L662.6 834.8L661.4 834.7L660.1 834.5L658.9 834.2L657.6 834Z" fill="#f19aa2" stroke="#3a3a3a" stroke-width="3.9" stroke-linejoin="round"/>
<line x1="452.9" y1="787.1" x2="452.9" y2="880.5" stroke="#0a0a0a" stroke-width="2.3" stroke-dasharray="5 3.2"/>
<line x1="731.3" y1="682" x2="731.3" y2="835.7" stroke="#333" stroke-width="3.5"/>
<line x1="604" y1="684" x2="733" y2="684" stroke="#333" stroke-width="4"/>
<line x1="710.1" y1="833.8" x2="733" y2="833.8" stroke="#333" stroke-width="3.8"/>
<text transform="translate(739.8 740) rotate(90) scale(0.95 1.04)" font-family="DejaVu Sans, Liberation Sans, sans-serif" font-weight="700" font-size="24.2" letter-spacing="3.40" fill="#000" stroke="#000" stroke-width="0.7">***</text>
</g>
<g>
<line x1="1095.5" y1="582.1" x2="1095.5" y2="949" stroke="#000" stroke-width="3.4"/>
<line x1="1095.5" y1="933.4" x2="1629.7" y2="933.4" stroke="#000" stroke-width="3.4"/>
<text transform="translate(1095.5 979.1) scale(1 1.05)" font-size="27" text-anchor="middle" font-family="Liberation Sans, Arial, Helvetica, sans-serif" font-weight="700" fill="#000">0</text>
<line x1="1202" y1="933.4" x2="1202" y2="949" stroke="#000" stroke-width="3.4"/>
<text transform="translate(1191.7 979.1) scale(1.4 1.05)" font-family="NanumGothic, Liberation Sans, sans-serif" font-weight="700" font-size="25.4" fill="#000">1</text>
<line x1="1308.5" y1="933.4" x2="1308.5" y2="949" stroke="#000" stroke-width="3.4"/>
<text transform="translate(1308.5 979.1) scale(1 1.05)" font-size="27" text-anchor="middle" font-family="Liberation Sans, Arial, Helvetica, sans-serif" font-weight="700" fill="#000">2</text>
<line x1="1415" y1="933.4" x2="1415" y2="949" stroke="#000" stroke-width="3.4"/>
<text transform="translate(1415 979.1) scale(1 1.05)" font-size="27" text-anchor="middle" font-family="Liberation Sans, Arial, Helvetica, sans-serif" font-weight="700" fill="#000">3</text>
<line x1="1521.5" y1="933.4" x2="1521.5" y2="949" stroke="#000" stroke-width="3.4"/>
<text transform="translate(1521.5 979.1) scale(1 1.05)" font-size="27" text-anchor="middle" font-family="Liberation Sans, Arial, Helvetica, sans-serif" font-weight="700" fill="#000">4</text>
<line x1="1628" y1="933.4" x2="1628" y2="949" stroke="#000" stroke-width="3.4"/>
<text transform="translate(1628 979.1) scale(1 1.05)" font-size="27" text-anchor="middle" font-family="Liberation Sans, Arial, Helvetica, sans-serif" font-weight="700" fill="#000">5</text>
<line x1="1080.5" y1="683.7" x2="1095.5" y2="683.7" stroke="#000" stroke-width="3.4"/>
<text x="1078.6" y="690.4" font-size="27.1" text-anchor="end" font-family="Liberation Sans, Arial, Helvetica, sans-serif" font-weight="700" fill="#000" letter-spacing="0">Non-professional</text>
<line x1="1080.5" y1="833.8" x2="1095.5" y2="833.8" stroke="#000" stroke-width="3.4"/>
<text x="1078.6" y="840.5" font-size="27.1" text-anchor="end" font-family="Liberation Sans, Arial, Helvetica, sans-serif" font-weight="700" fill="#000" letter-spacing="0">Professional</text>
<text x="1366" y="1021" font-size="29.9" text-anchor="middle" font-family="Liberation Sans, Arial, Helvetica, sans-serif" font-weight="700" fill="#000" letter-spacing="0">mDISCERN score (TikTok)</text>
<text transform="translate(887.3 588) scale(0.96 1)" font-size="42" font-family="Liberation Sans, Arial, Helvetica, sans-serif" font-weight="400" fill="#000">D</text>
<line x1="1173.1" y1="683.7" x2="1337.1" y2="683.7" stroke="#3a3a3a" stroke-width="3.6"/>
<path d="M1178.1 683.7L1179.4 683.3L1180.6 682.4L1181.9 681.2L1183.1 679.7L1184.4 677.7L1185.6 675.2L1186.9 672.3L1188.1 668.9L1189.4 665.2L1190.6 661.1L1191.9 656.9L1193.1 652.7L1194.4 648.6L1195.6 644.9L1196.9 641.8L1198.1 639.2L1199.4 637.5L1200.6 636.4L1201.9 636.1L1203.1 636.3L1204.4 637.2L1205.6 638.9L1206.9 641.3L1208.2 644.4L1209.4 648L1210.7 652L1211.9 656.2L1213.2 660.4L1214.4 664.5L1215.7 668.3L1216.9 671.7L1218.2 674.7L1219.4 677.3L1220.7 679.3L1221.9 681L1223.2 682.3L1224.4 683.2L1225.7 683.7L1224.4 684.2L1223.2 685.1L1221.9 686.4L1220.7 688.1L1219.4 690.1L1218.2 692.7L1216.9 695.7L1215.7 699.1L1214.4 702.9L1213.2 707L1211.9 711.2L1210.7 715.4L1209.4 719.4L1208.2 723L1206.9 726.1L1205.6 728.5L1204.4 730.2L1203.1 731.1L1201.9 731.3L1200.6 731L1199.4 729.9L1198.1 728.2L1196.9 725.6L1195.6 722.5L1194.4 718.8L1193.1 714.7L1191.9 710.5L1190.6 706.3L1189.4 702.2L1188.1 698.5L1186.9 695.1L1185.6 692.2L1184.4 689.7L1183.1 687.7L1181.9 686.2L1180.6 685L1179.4 684.1Z" fill="#d0daee" stroke="#3a3a3a" stroke-width="3.6" stroke-linejoin="round"/>
<path d="M1287 683.7L1288.3 683.4L1289.5 682.7L1290.8 681.8L1292 680.6L1293.3 679.3L1294.5 677.7L1295.8 675.9L1297 674L1298.3 672L1299.5 670.1L1300.8 668.1L1302 666.4L1303.3 664.9L1304.6 663.7L1305.8 662.8L1307.1 662.3L1308.3 662.1L1309.6 662.2L1310.8 662.6L1312.1 663.3L1313.3 664.5L1314.6 665.9L1315.8 667.6L1317.1 669.4L1318.3 671.4L1319.6 673.4L1320.8 675.4L1322.1 677.2L1323.3 678.8L1324.6 680.2L1325.8 681.4L1327.1 682.4L1328.3 683.2L1329.6 683.7L1328.3 684.2L1327.1 685L1325.8 686L1324.6 687.2L1323.3 688.6L1322.1 690.2L1320.8 692L1319.6 694L1318.3 696L1317.1 698L1315.8 699.8L1314.6 701.5L1313.3 702.9L1312.1 704.1L1310.8 704.8L1309.6 705.2L1308.3 705.3L1307.1 705.1L1305.8 704.6L1304.6 703.7L1303.3 702.5L1302 701L1300.8 699.3L1299.5 697.3L1298.3 695.4L1297 693.4L1295.8 691.5L1294.5 689.7L1293.3 688.1L1292 686.8L1290.8 685.6L1289.5 684.7L1288.3 684Z" fill="#d0daee" stroke="#3a3a3a" stroke-width="3.6" stroke-linejoin="round"/>
<line x1="1202" y1="637.4" x2="1202" y2="730" stroke="#0a0a0a" stroke-width="1.8" stroke-dasharray="5 3.2"/>
<line x1="1308.5" y1="663.4" x2="1308.5" y2="704" stroke="#0a0a0a" stroke-width="1.6" stroke-dasharray="1.7 3.5"/>
<line x1="1288.9" y1="833.8" x2="1540.4" y2="833.8" stroke="#3a3a3a" stroke-width="3.6"/>
<path d="M1293.9 833.8L1295.2 833.6L1296.4 832.1L1297.7 829.5L1298.9 825.7L1300.2 820.5L1301.4 814L1302.7 806.8L1303.9 799.6L1305.2 793.3L1306.4 788.7L1307.7 786.4L1308.9 786.1L1310.2 787.7L1311.4 791.6L1312.7 797.4L1313.9 804.4L1315.2 811.7L1316.4 818.5L1317.7 824.1L1318.9 828.4L1320.2 831.3L1321.4 833.2L1322.7 833.8L1321.4 834.4L1320.2 836.3L1318.9 839.2L1317.7 843.5L1316.4 849.1L1315.2 855.9L1313.9 863.2L1312.7 870.2L1311.4 876L1310.2 879.9L1308.9 881.5L1307.7 881.2L1306.4 878.9L1305.2 874.3L1303.9 868L1302.7 860.8L1301.4 853.6L1300.2 847.1L1298.9 841.9L1297.7 838.1L1296.4 835.5L1295.2 834Z" fill="#f19aa2" stroke="#3a3a3a" stroke-width="3.6" stroke-linejoin="round"/>
<path d="M1401.5 833.8L1402.8 833.5L1404 832.6L1405.3 831.5L1406.5 830.2L1407.8 828.7L1409 827.3L1410.3 825.9L1411.5 824.8L1412.8 824L1414 823.6L1415.3 823.5L1416.5 823.7L1417.8 824.3L1419 825.3L1420.3 826.5L1421.5 827.9L1422.8 829.4L1424 830.8L1425.3 832L1426.5 833L1427.8 833.8L1429 833.8L1427.8 833.8L1426.5 834.6L1425.3 835.6L1424 836.8L1422.8 838.2L1421.5 839.7L1420.3 841.1L1419 842.3L1417.8 843.3L1416.5 843.9L1415.3 844.1L1414 844L1412.8 843.6L1411.5 842.8L1410.3 841.7L1409 840.3L1407.8 838.9L1406.5 837.4L1405.3 836.1L1404 835L1402.8 834.1Z" fill="#f19aa2" stroke="#3a3a3a" stroke-width="3.6" stroke-linejoin="round"/>
<path d="M1511.6 833.8L1512.9 833.7L1514.1 833.4L1515.4 833.1L1516.6 832.9L1517.9 832.7L1519.1 832.6L1520.4 832.5L1521.6 832.5L1522.9 832.5L1524.1 832.6L1525.4 832.7L1526.6 832.9L1527.9 833.2L1529.1 833.4L1530.4 833.7L1531.6 833.8L1530.4 833.9L1529.1 834.2L1527.9 834.4L1526.6 834.7L1525.4 834.9L1524.1 835L1522.9 835.1L1521.6 835.1L1520.4 835.1L1519.1 835L1517.9 834.9L1516.6 834.7L1515.4 834.5L1514.1 834.2L1512.9 833.9Z" fill="#f19aa2" stroke="#3a3a3a" stroke-width="3.6" stroke-linejoin="round"/>
<line x1="1308.5" y1="787.3" x2="1308.5" y2="880.3" stroke="#0a0a0a" stroke-width="1.8" stroke-dasharray="5 3.2"/>
<line x1="1582.5" y1="682.2" x2="1582.5" y2="835.5" stroke="#000" stroke-width="3.2"/>
<line x1="1358.2" y1="684" x2="1584.1" y2="684" stroke="#000" stroke-width="3.4"/>
<line x1="1561.2" y1="833.8" x2="1584.1" y2="833.8" stroke="#000" stroke-width="3.4"/>
<text transform="translate(1592.2 717.9) rotate(90) scale(0.95 1.04)" font-family="DejaVu Sans, Liberation Sans, sans-serif" font-weight="700" font-size="24.2" letter-spacing="3.17" fill="#000" stroke="#000" stroke-width="0.7">****</text>
</g>
<g>
<line x1="240" y1="1117.2" x2="240" y2="1483.7" stroke="#000" stroke-width="3.4"/>
<line x1="240" y1="1468.3" x2="773.7" y2="1468.3" stroke="#000" stroke-width="3.4"/>
<text transform="translate(240 1513.6) scale(1 1.05)" font-size="27" text-anchor="middle" font-family="Liberation Sans, Arial, Helvetica, sans-serif" font-weight="700" fill="#000">0</text>
<line x1="346.4" y1="1468.3" x2="346.4" y2="1483.7" stroke="#000" stroke-width="3.4"/>
<text transform="translate(331.9 1513.6) scale(1 1.05)" font-size="27" font-family="Liberation Sans, Arial, Helvetica, sans-serif" font-weight="700" fill="#000"><tspan font-family="NanumGothic, Liberation Sans, sans-serif" font-size="25.1" stroke="#000" stroke-width="1" stroke-linejoin="miter">1</tspan><tspan dx="-0.7">5</tspan></text>
<line x1="452.8" y1="1468.3" x2="452.8" y2="1483.7" stroke="#000" stroke-width="3.4"/>
<text transform="translate(452.8 1513.6) scale(1 1.05)" font-size="27" text-anchor="middle" font-family="Liberation Sans, Arial, Helvetica, sans-serif" font-weight="700" fill="#000">30</text>
<line x1="559.2" y1="1468.3" x2="559.2" y2="1483.7" stroke="#000" stroke-width="3.4"/>
<text transform="translate(559.2 1513.6) scale(1 1.05)" font-size="27" text-anchor="middle" font-family="Liberation Sans, Arial, Helvetica, sans-serif" font-weight="700" fill="#000">45</text>
<line x1="665.6" y1="1468.3" x2="665.6" y2="1483.7" stroke="#000" stroke-width="3.4"/>
<text transform="translate(665.6 1513.6) scale(1 1.05)" font-size="27" text-anchor="middle" font-family="Liberation Sans, Arial, Helvetica, sans-serif" font-weight="700" fill="#000">60</text>
<line x1="772" y1="1468.3" x2="772" y2="1483.7" stroke="#000" stroke-width="3.4"/>
<text transform="translate(772 1513.6) scale(1 1.05)" font-size="27" text-anchor="middle" font-family="Liberation Sans, Arial, Helvetica, sans-serif" font-weight="700" fill="#000">75</text>
<line x1="225" y1="1218.8" x2="240" y2="1218.8" stroke="#000" stroke-width="3.4"/>
<text x="222.6" y="1225.5" font-size="27.1" text-anchor="end" font-family="Liberation Sans, Arial, Helvetica, sans-serif" font-weight="700" fill="#000" letter-spacing="0">Non-professional</text>
<line x1="225" y1="1368.8" x2="240" y2="1368.8" stroke="#000" stroke-width="3.4"/>
<text x="222.6" y="1375.5" font-size="27.1" text-anchor="end" font-family="Liberation Sans, Arial, Helvetica, sans-serif" font-weight="700" fill="#000" letter-spacing="0">Professional</text>
<text x="507.5" y="1556.3" font-size="29.6" text-anchor="middle" font-family="Liberation Sans, Arial, Helvetica, sans-serif" font-weight="700" fill="#000" letter-spacing="0">MQ-VET score (Bilibili)</text>
<text transform="translate(13 1135.8) scale(0.96 1)" font-size="42" font-family="Liberation Sans, Arial, Helvetica, sans-serif" font-weight="400" fill="#000">E</text>
<line x1="403.1" y1="1218.8" x2="630" y2="1218.8" stroke="#3a3a3a" stroke-width="3.6"/>
<path d="M413.1 1218.8L414.3 1218.8L415.6 1218.8L416.8 1218.8L418.1 1218.6L419.3 1218L420.6 1217.2L421.8 1216.2L423 1215.4L424.3 1214.6L425.5 1213.8L426.8 1213.2L428 1212.6L429.3 1212L430.5 1211.4L431.8 1210.8L433 1210.3L434.3 1209.9L435.5 1209.6L436.8 1209.4L438 1209.4L439.3 1209.4L440.5 1209.5L441.7 1209.7L443 1209.9L444.2 1210.1L445.5 1210.4L446.7 1210.6L448 1210.8L449.2 1210.9L450.5 1211L451.7 1211.1L453 1211L454.2 1210.8L455.5 1210.6L456.7 1210.3L458 1209.9L459.2 1209.5L460.4 1209.2L461.7 1208.8L462.9 1208.4L464.2 1208.1L465.4 1207.8L466.7 1207.4L467.9 1207L469.2 1206.6L470.4 1206.2L471.7 1205.8L472.9 1205.5L474.2 1205.2L475.4 1204.9L476.7 1204.7L477.9 1204.7L479.1 1204.8L480.4 1205L481.6 1205.5L482.9 1206.1L484.1 1206.9L485.4 1207.6L486.6 1208.3L487.9 1209L489.1 1209.6L490.4 1210.1L491.6 1210.6L492.9 1211.1L494.1 1211.5L495.4 1211.7L496.6 1211.7L497.8 1211.3L499.1 1210.5L500.3 1209.6L501.6 1208.3L502.8 1206.8L504.1 1204.9L505.3 1203.1L506.6 1201.3L507.8 1199.8L509.1 1198.4L510.3 1197.2L511.6 1196L512.8 1194.9L514.1 1193.9L515.3 1193.1L516.5 1192.3L517.8 1191.5L519 1190.8L520.3 1190L521.5 1189L522.8 1188L524 1186.8L525.3 1185.4L526.5 1184L527.8 1182.5L529 1180.8L530.3 1179L531.5 1177.1L532.8 1175.4L534 1173.8L535.3 1172.6L536.5 1171.7L537.7 1171.3L539 1171.4L540.2 1172.1L541.5 1173.2L542.7 1174.7L544 1176.6L545.2 1178.9L546.5 1181.4L547.7 1183.9L549 1186.1L550.2 1188.2L551.5 1190.2L552.7 1191.9L554 1193.2L555.2 1194.2L556.4 1194.8L557.7 1195.3L558.9 1195.6L560.2 1195.6L561.4 1195.5L562.7 1195.4L563.9 1195.2L565.2 1195.2L566.4 1195.4L567.7 1195.9L568.9 1196.6L570.2 1197.5L571.4 1198.5L572.7 1199.7L573.9 1201.1L575.1 1202.6L576.4 1204.3L577.6 1205.9L578.9 1207.3L580.1 1208.6L581.4 1209.9L582.6 1211L583.9 1212.1L585.1 1213L586.4 1213.6L587.6 1214L588.9 1214.3L590.1 1214.6L591.4 1214.7L592.6 1214.9L593.8 1215L595.1 1215L596.3 1214.9L597.6 1214.9L598.8 1214.8L600.1 1214.7L601.3 1214.6L602.6 1214.7L603.8 1214.9L605.1 1215.2L606.3 1215.6L607.6 1216.1L608.8 1216.6L610.1 1217L611.3 1217.4L612.5 1217.8L613.8 1218.1L615 1218.4L616.3 1218.7L617.5 1218.8L618.8 1218.8L620 1218.8L621.3 1218.8L620 1218.8L618.8 1218.8L617.5 1218.8L616.3 1218.9L615 1219.2L613.8 1219.5L612.5 1219.8L611.3 1220.2L610.1 1220.6L608.8 1221L607.6 1221.5L606.3 1222L605.1 1222.4L603.8 1222.7L602.6 1222.9L601.3 1223L600.1 1222.9L598.8 1222.8L597.6 1222.7L596.3 1222.7L595.1 1222.6L593.8 1222.6L592.6 1222.7L591.4 1222.9L590.1 1223L588.9 1223.3L587.6 1223.6L586.4 1224L585.1 1224.6L583.9 1225.5L582.6 1226.6L581.4 1227.7L580.1 1229L578.9 1230.3L577.6 1231.7L576.4 1233.3L575.1 1235L573.9 1236.5L572.7 1237.9L571.4 1239.1L570.2 1240.1L568.9 1241L567.7 1241.7L566.4 1242.2L565.2 1242.4L563.9 1242.4L562.7 1242.2L561.4 1242.1L560.2 1242L558.9 1242L557.7 1242.3L556.4 1242.8L555.2 1243.4L554 1244.4L552.7 1245.7L551.5 1247.4L550.2 1249.4L549 1251.5L547.7 1253.7L546.5 1256.2L545.2 1258.7L544 1261L542.7 1262.9L541.5 1264.4L540.2 1265.5L539 1266.2L537.7 1266.3L536.5 1265.9L535.3 1265L534 1263.8L532.8 1262.2L531.5 1260.5L530.3 1258.6L529 1256.8L527.8 1255.1L526.5 1253.6L525.3 1252.2L524 1250.8L522.8 1249.6L521.5 1248.6L520.3 1247.6L519 1246.8L517.8 1246.1L516.5 1245.3L515.3 1244.5L514.1 1243.7L512.8 1242.7L511.6 1241.6L510.3 1240.4L509.1 1239.2L507.8 1237.8L506.6 1236.3L505.3 1234.5L504.1 1232.7L502.8 1230.8L501.6 1229.3L500.3 1228L499.1 1227.1L497.8 1226.3L496.6 1225.9L495.4 1225.9L494.1 1226.1L492.9 1226.5L491.6 1227L490.4 1227.5L489.1 1228L487.9 1228.6L486.6 1229.3L485.4 1230L484.1 1230.7L482.9 1231.5L481.6 1232.1L480.4 1232.6L479.1 1232.8L477.9 1232.9L476.7 1232.9L475.4 1232.7L474.2 1232.4L472.9 1232.1L471.7 1231.8L470.4 1231.4L469.2 1231L467.9 1230.6L466.7 1230.2L465.4 1229.8L464.2 1229.5L462.9 1229.2L461.7 1228.8L460.4 1228.4L459.2 1228.1L458 1227.7L456.7 1227.3L455.5 1227L454.2 1226.8L453 1226.6L451.7 1226.5L450.5 1226.6L449.2 1226.7L448 1226.8L446.7 1227L445.5 1227.2L444.2 1227.5L443 1227.7L441.7 1227.9L440.5 1228.1L439.3 1228.2L438 1228.2L436.8 1228.2L435.5 1228L434.3 1227.7L433 1227.3L431.8 1226.8L430.5 1226.2L429.3 1225.6L428 1225L426.8 1224.4L425.5 1223.8L424.3 1223L423 1222.2L421.8 1221.4L420.6 1220.4L419.3 1219.6L418.1 1219L416.8 1218.8L415.6 1218.8L414.3 1218.8Z" fill="#c3acb6" stroke="#3a3a3a" stroke-width="3.6" stroke-linejoin="round"/>
<line x1="503.5" y1="1207.1" x2="503.5" y2="1230.5" stroke="#0a0a0a" stroke-width="1.6" stroke-dasharray="1.7 3.5"/>
<line x1="537.7" y1="1172.6" x2="537.7" y2="1265" stroke="#0a0a0a" stroke-width="2.4" stroke-dasharray="5 3.2"/>
<line x1="546.6" y1="1183" x2="546.6" y2="1254.6" stroke="#0a0a0a" stroke-width="1.6" stroke-dasharray="1.7 3.5"/>
<line x1="460.8" y1="1368.8" x2="670.8" y2="1368.8" stroke="#3a3a3a" stroke-width="3.6"/>
<path d="M469.6 1368.8L470.8 1368.8L472.1 1368.8L473.3 1368.7L474.6 1368.5L475.8 1367.9L477.1 1367.1L478.3 1366.2L479.6 1365.2L480.8 1364.2L482.1 1363L483.3 1361.8L484.6 1360.5L485.8 1359.2L487.1 1358L488.3 1356.9L489.6 1355.9L490.8 1355L492.1 1354.2L493.3 1353.8L494.6 1353.6L495.8 1353.6L497.1 1353.6L498.3 1353.6L499.6 1353.6L500.8 1353.6L502.1 1353.5L503.3 1353.4L504.6 1353.1L505.8 1352.7L507.1 1352.2L508.3 1351.3L509.6 1350L510.8 1348.2L512 1346.1L513.3 1343.9L514.5 1341.7L515.8 1339.4L517 1337L518.3 1334.7L519.5 1332.5L520.8 1330.3L522 1328.3L523.3 1326.6L524.5 1325.3L525.8 1324.2L527 1323.2L528.3 1322.5L529.5 1321.9L530.8 1321.4L532 1321.1L533.3 1320.8L534.5 1320.7L535.8 1320.9L537 1321.3L538.3 1321.8L539.5 1322.3L540.8 1322.8L542 1323.2L543.3 1323.5L544.5 1323.8L545.8 1323.9L547 1323.9L548.3 1323.8L549.5 1323.5L550.8 1323.2L552 1322.9L553.3 1322.5L554.5 1322.1L555.8 1321.8L557 1321.7L558.3 1322.1L559.5 1322.8L560.8 1323.8L562 1324.9L563.3 1326.3L564.5 1327.8L565.8 1329.5L567 1331.1L568.3 1332.7L569.5 1334.1L570.8 1335.3L572 1336.3L573.3 1337L574.5 1337.5L575.8 1337.9L577 1338.3L578.3 1338.5L579.5 1338.8L580.8 1338.9L582 1339.1L583.3 1339.2L584.5 1339.4L585.8 1339.7L587 1340L588.3 1340.4L589.5 1341L590.8 1341.7L592 1342.5L593.3 1343.3L594.5 1344.2L595.8 1345.3L597 1346.5L598.3 1347.9L599.5 1349.2L600.8 1350.6L602 1351.9L603.3 1353.2L604.5 1354.6L605.8 1355.9L607 1357.2L608.3 1358.2L609.5 1359.2L610.8 1360L612 1360.8L613.3 1361.4L614.5 1362L615.8 1362.5L617 1362.8L618.3 1363L619.5 1363.2L620.8 1363.4L622 1363.6L623.3 1363.7L624.5 1363.8L625.8 1363.9L627 1364L628.3 1364L629.5 1364.1L630.8 1364.1L632 1364.1L633.3 1364.1L634.5 1364.2L635.8 1364.2L637 1364.2L638.3 1364.2L639.5 1364.3L640.8 1364.4L642 1364.6L643.3 1364.8L644.5 1365.1L645.8 1365.4L647 1365.7L648.3 1366.1L649.5 1366.5L650.8 1366.9L652 1367.4L653.3 1367.9L654.5 1368.3L655.8 1368.7L657 1368.8L658.3 1368.8L659.5 1368.8L660.8 1368.8L659.5 1368.8L658.3 1368.8L657 1368.8L655.8 1368.9L654.5 1369.3L653.3 1369.7L652 1370.2L650.8 1370.7L649.5 1371.1L648.3 1371.5L647 1371.9L645.8 1372.2L644.5 1372.5L643.3 1372.8L642 1373L640.8 1373.2L639.5 1373.3L638.3 1373.4L637 1373.4L635.8 1373.4L634.5 1373.4L633.3 1373.5L632 1373.5L630.8 1373.5L629.5 1373.5L628.3 1373.6L627 1373.6L625.8 1373.7L624.5 1373.8L623.3 1373.9L622 1374L620.8 1374.2L619.5 1374.4L618.3 1374.6L617 1374.8L615.8 1375.1L614.5 1375.6L613.3 1376.2L612 1376.8L610.8 1377.6L609.5 1378.4L608.3 1379.4L607 1380.4L605.8 1381.7L604.5 1383L603.3 1384.4L602 1385.7L600.8 1387L599.5 1388.4L598.3 1389.7L597 1391.1L595.8 1392.3L594.5 1393.4L593.3 1394.3L592 1395.1L590.8 1395.9L589.5 1396.6L588.3 1397.2L587 1397.6L585.8 1397.9L584.5 1398.2L583.3 1398.4L582 1398.5L580.8 1398.7L579.5 1398.8L578.3 1399.1L577 1399.3L575.8 1399.7L574.5 1400.1L573.3 1400.6L572 1401.3L570.8 1402.3L569.5 1403.5L568.3 1404.9L567 1406.5L565.8 1408.1L564.5 1409.8L563.3 1411.3L562 1412.7L560.8 1413.8L559.5 1414.8L558.3 1415.5L557 1415.9L555.8 1415.8L554.5 1415.5L553.3 1415.1L552 1414.7L550.8 1414.4L549.5 1414.1L548.3 1413.8L547 1413.7L545.8 1413.7L544.5 1413.8L543.3 1414.1L542 1414.4L540.8 1414.8L539.5 1415.3L538.3 1415.8L537 1416.3L535.8 1416.7L534.5 1416.9L533.3 1416.8L532 1416.5L530.8 1416.2L529.5 1415.7L528.3 1415.1L527 1414.4L525.8 1413.4L524.5 1412.3L523.3 1411L522 1409.3L520.8 1407.3L519.5 1405.1L518.3 1402.9L517 1400.6L515.8 1398.2L514.5 1395.9L513.3 1393.7L512 1391.5L510.8 1389.4L509.6 1387.6L508.3 1386.3L507.1 1385.4L505.8 1384.9L504.6 1384.5L503.3 1384.2L502.1 1384.1L500.8 1384L499.6 1384L498.3 1384L497.1 1384L495.8 1384L494.6 1384L493.3 1383.8L492.1 1383.4L490.8 1382.6L489.6 1381.7L488.3 1380.7L487.1 1379.6L485.8 1378.4L484.6 1377.1L483.3 1375.8L482.1 1374.6L480.8 1373.4L479.6 1372.4L478.3 1371.4L477.1 1370.5L475.8 1369.7L474.6 1369.1L473.3 1368.9L472.1 1368.8L470.8 1368.8Z" fill="#ede8ca" stroke="#3a3a3a" stroke-width="3.6" stroke-linejoin="round"/>
<line x1="528.8" y1="1323.5" x2="528.8" y2="1414.1" stroke="#0a0a0a" stroke-width="1.6" stroke-dasharray="1.7 3.5"/>
<line x1="551.8" y1="1324.3" x2="551.8" y2="1413.3" stroke="#0a0a0a" stroke-width="1.8" stroke-dasharray="5 3.2"/>
<line x1="574.8" y1="1338.9" x2="574.8" y2="1398.7" stroke="#0a0a0a" stroke-width="1.6" stroke-dasharray="1.7 3.5"/>
<line x1="713.4" y1="1217" x2="713.4" y2="1370.7" stroke="#3c3c3c" stroke-width="3.5"/>
<line x1="650" y1="1219" x2="715.1" y2="1219" stroke="#3c3c3c" stroke-width="4"/>
<line x1="691.9" y1="1368.8" x2="715.1" y2="1368.8" stroke="#3c3c3c" stroke-width="3.8"/>
<text transform="translate(722.2 1281.4) rotate(90) scale(0.95 1.04)" font-family="DejaVu Sans, Liberation Sans, sans-serif" font-weight="700" font-size="22.5" letter-spacing="1.92" fill="#000" stroke="#000" stroke-width="0.7">**</text>
</g>
<g>
<line x1="1095.5" y1="1117.2" x2="1095.5" y2="1483.7" stroke="#000" stroke-width="3.4"/>
<line x1="1095.5" y1="1468.3" x2="1629.2" y2="1468.3" stroke="#000" stroke-width="3.4"/>
<text transform="translate(1095.5 1513.6) scale(1 1.05)" font-size="27" text-anchor="middle" font-family="Liberation Sans, Arial, Helvetica, sans-serif" font-weight="700" fill="#000">0</text>
<line x1="1201.9" y1="1468.3" x2="1201.9" y2="1483.7" stroke="#000" stroke-width="3.4"/>
<text transform="translate(1187.4 1513.6) scale(1 1.05)" font-size="27" font-family="Liberation Sans, Arial, Helvetica, sans-serif" font-weight="700" fill="#000"><tspan font-family="NanumGothic, Liberation Sans, sans-serif" font-size="25.1" stroke="#000" stroke-width="1" stroke-linejoin="miter">1</tspan><tspan dx="-0.7">5</tspan></text>
<line x1="1308.3" y1="1468.3" x2="1308.3" y2="1483.7" stroke="#000" stroke-width="3.4"/>
<text transform="translate(1308.3 1513.6) scale(1 1.05)" font-size="27" text-anchor="middle" font-family="Liberation Sans, Arial, Helvetica, sans-serif" font-weight="700" fill="#000">30</text>
<line x1="1414.7" y1="1468.3" x2="1414.7" y2="1483.7" stroke="#000" stroke-width="3.4"/>
<text transform="translate(1414.7 1513.6) scale(1 1.05)" font-size="27" text-anchor="middle" font-family="Liberation Sans, Arial, Helvetica, sans-serif" font-weight="700" fill="#000">45</text>
<line x1="1521.1" y1="1468.3" x2="1521.1" y2="1483.7" stroke="#000" stroke-width="3.4"/>
<text transform="translate(1521.1 1513.6) scale(1 1.05)" font-size="27" text-anchor="middle" font-family="Liberation Sans, Arial, Helvetica, sans-serif" font-weight="700" fill="#000">60</text>
<line x1="1627.5" y1="1468.3" x2="1627.5" y2="1483.7" stroke="#000" stroke-width="3.4"/>
<text transform="translate(1627.5 1513.6) scale(1 1.05)" font-size="27" text-anchor="middle" font-family="Liberation Sans, Arial, Helvetica, sans-serif" font-weight="700" fill="#000">75</text>
<line x1="1080.5" y1="1218.6" x2="1095.5" y2="1218.6" stroke="#000" stroke-width="3.4"/>
<text x="1078.9" y="1225.3" font-size="27.1" text-anchor="end" font-family="Liberation Sans, Arial, Helvetica, sans-serif" font-weight="700" fill="#000" letter-spacing="0">Non-professional</text>
<line x1="1080.5" y1="1368.8" x2="1095.5" y2="1368.8" stroke="#000" stroke-width="3.4"/>
<text x="1078.9" y="1375.5" font-size="27.1" text-anchor="end" font-family="Liberation Sans, Arial, Helvetica, sans-serif" font-weight="700" fill="#000" letter-spacing="0">Professional</text>
<text x="1366" y="1556.3" font-size="29.6" text-anchor="middle" font-family="Liberation Sans, Arial, Helvetica, sans-serif" font-weight="700" fill="#000" letter-spacing="0">MQ-VET score (TikTok)</text>
<text transform="translate(888.9 1136) scale(0.96 1)" font-size="42" font-family="Liberation Sans, Arial, Helvetica, sans-serif" font-weight="400" fill="#000">F</text>
<line x1="1113.3" y1="1218.6" x2="1376.6" y2="1218.6" stroke="#3a3a3a" stroke-width="3.6"/>
<path d="M1117.3 1218.6L1118.3 1218.6L1119.3 1218.6L1120.3 1218.5L1121.3 1218.1L1122.3 1217.2L1123.3 1216L1124.3 1214.8L1125.3 1213.7L1126.3 1212.5L1127.3 1211.3L1128.3 1210.1L1129.3 1208.9L1130.3 1208L1131.3 1207.7L1132.3 1207.9L1133.3 1208.7L1134.3 1209.7L1135.3 1210.9L1136.3 1212.1L1137.3 1213.3L1138.3 1214.6L1139.3 1215.9L1140.3 1217.1L1141.3 1217.9L1142.3 1218.4L1143.3 1218.6L1144.3 1218.6L1145.3 1218.6L1146.3 1218.6L1145.3 1218.6L1144.3 1218.6L1143.3 1218.6L1142.3 1218.8L1141.3 1219.3L1140.3 1220.1L1139.3 1221.3L1138.3 1222.6L1137.3 1223.9L1136.3 1225.1L1135.3 1226.3L1134.3 1227.5L1133.3 1228.5L1132.3 1229.3L1131.3 1229.5L1130.3 1229.2L1129.3 1228.3L1128.3 1227.1L1127.3 1225.9L1126.3 1224.7L1125.3 1223.5L1124.3 1222.4L1123.3 1221.2L1122.3 1220L1121.3 1219.1L1120.3 1218.7L1119.3 1218.6L1118.3 1218.6Z" fill="#c3acb6" stroke="#3a3a3a" stroke-width="3.6" stroke-linejoin="round"/>
<path d="M1300.5 1218.6L1301.5 1218.6L1302.5 1218.6L1303.5 1218.5L1304.5 1218.3L1305.5 1217.5L1306.5 1216.1L1307.5 1214.4L1308.5 1212.8L1309.5 1211.4L1310.5 1210.2L1311.5 1209.2L1312.5 1208.2L1313.5 1207.4L1314.5 1206.8L1315.5 1206.4L1316.5 1206.1L1317.5 1205.9L1318.5 1205.6L1319.5 1205.2L1320.5 1204.3L1321.5 1202.7L1322.5 1200.3L1323.5 1197.5L1324.5 1194.2L1325.5 1190.5L1326.5 1186.4L1327.5 1182.4L1328.5 1178.5L1329.5 1175.3L1330.5 1173.1L1331.5 1171.6L1332.5 1170.8L1333.6 1170.8L1334.6 1171.3L1335.6 1172.2L1336.6 1173.1L1337.6 1173.9L1338.6 1174.8L1339.6 1175.6L1340.6 1176.2L1341.6 1176.7L1342.6 1177L1343.6 1177.1L1344.6 1177.3L1345.6 1177.4L1346.6 1177.6L1347.6 1177.7L1348.6 1177.9L1349.6 1178.2L1350.6 1178.5L1351.6 1178.8L1352.6 1179.2L1353.6 1179.8L1354.6 1180.7L1355.6 1182.1L1356.6 1183.9L1357.6 1185.9L1358.6 1188.2L1359.6 1190.7L1360.6 1193.5L1361.6 1196.5L1362.6 1199.5L1363.6 1202.5L1364.6 1205.6L1365.6 1208.4L1366.6 1210.9L1367.6 1212.9L1368.6 1214.7L1369.6 1216.2L1370.6 1217.4L1371.6 1218.2L1372.6 1218.5L1373.6 1218.6L1374.6 1218.6L1375.6 1218.6L1374.6 1218.6L1373.6 1218.6L1372.6 1218.7L1371.6 1219L1370.6 1219.8L1369.6 1221L1368.6 1222.5L1367.6 1224.3L1366.6 1226.3L1365.6 1228.8L1364.6 1231.6L1363.6 1234.7L1362.6 1237.7L1361.6 1240.7L1360.6 1243.7L1359.6 1246.5L1358.6 1249L1357.6 1251.3L1356.6 1253.3L1355.6 1255.1L1354.6 1256.5L1353.6 1257.4L1352.6 1258L1351.6 1258.4L1350.6 1258.7L1349.6 1259L1348.6 1259.3L1347.6 1259.5L1346.6 1259.6L1345.6 1259.8L1344.6 1259.9L1343.6 1260.1L1342.6 1260.2L1341.6 1260.5L1340.6 1261L1339.6 1261.6L1338.6 1262.4L1337.6 1263.3L1336.6 1264.1L1335.6 1265L1334.6 1265.9L1333.6 1266.4L1332.5 1266.4L1331.5 1265.6L1330.5 1264.1L1329.5 1261.9L1328.5 1258.7L1327.5 1254.8L1326.5 1250.8L1325.5 1246.7L1324.5 1243L1323.5 1239.7L1322.5 1236.9L1321.5 1234.5L1320.5 1232.9L1319.5 1232L1318.5 1231.6L1317.5 1231.3L1316.5 1231.1L1315.5 1230.8L1314.5 1230.4L1313.5 1229.8L1312.5 1229L1311.5 1228L1310.5 1227L1309.5 1225.8L1308.5 1224.4L1307.5 1222.8L1306.5 1221.1L1305.5 1219.7L1304.5 1218.9L1303.5 1218.7L1302.5 1218.6L1301.5 1218.6Z" fill="#c3acb6" stroke="#3a3a3a" stroke-width="3.6" stroke-linejoin="round"/>
<line x1="1329.9" y1="1175.7" x2="1329.9" y2="1261.5" stroke="#0a0a0a" stroke-width="2.0" stroke-dasharray="1.7 3.5"/>
<line x1="1336.6" y1="1174.4" x2="1336.6" y2="1262.8" stroke="#0a0a0a" stroke-width="2.3" stroke-dasharray="5 3.2"/>
<line x1="1351.2" y1="1180" x2="1351.2" y2="1257.2" stroke="#0a0a0a" stroke-width="2.0" stroke-dasharray="1.7 3.5"/>
<line x1="1332.8" y1="1368.8" x2="1518.5" y2="1368.8" stroke="#3a3a3a" stroke-width="3.6"/>
<path d="M1341.5 1368.8L1342.8 1368.8L1344 1368.8L1345.3 1368.8L1346.5 1368.7L1347.8 1368.4L1349 1367.9L1350.2 1367.3L1351.5 1366.7L1352.7 1366L1354 1365.3L1355.2 1364.5L1356.5 1363.7L1357.7 1362.8L1359 1361.9L1360.2 1360.9L1361.5 1359.8L1362.7 1358.7L1364 1357.5L1365.2 1356.3L1366.5 1355.1L1367.7 1353.8L1368.9 1352.4L1370.2 1350.9L1371.4 1349.3L1372.7 1347.4L1373.9 1345.2L1375.2 1343L1376.4 1340.7L1377.7 1338.6L1378.9 1336.6L1380.2 1334.6L1381.4 1332.8L1382.7 1331.2L1383.9 1330.1L1385.1 1329.2L1386.4 1328.4L1387.6 1327.8L1388.9 1327.3L1390.1 1327L1391.4 1327L1392.6 1327.2L1393.9 1327.8L1395.1 1328.7L1396.4 1329.7L1397.6 1330.8L1398.9 1332.3L1400.1 1334L1401.3 1335.9L1402.6 1337.7L1403.8 1339.2L1405.1 1340.6L1406.3 1341.8L1407.6 1342.9L1408.8 1343.7L1410.1 1344.2L1411.3 1344.3L1412.6 1343.9L1413.8 1343.2L1415.1 1342.3L1416.3 1341.4L1417.5 1340.4L1418.8 1339.5L1420 1338.6L1421.3 1337.6L1422.5 1336.6L1423.8 1335.6L1425 1334.5L1426.3 1333.4L1427.5 1332.2L1428.8 1331.1L1430 1329.9L1431.3 1328.7L1432.5 1327.5L1433.8 1326.4L1435 1325.3L1436.2 1324.3L1437.5 1323.4L1438.7 1322.6L1440 1322L1441.2 1321.5L1442.5 1321.2L1443.7 1321.2L1445 1321.4L1446.2 1321.9L1447.5 1322.5L1448.7 1323.4L1450 1324.5L1451.2 1326L1452.4 1327.7L1453.7 1329.5L1454.9 1331.3L1456.2 1333.3L1457.4 1335.3L1458.7 1337.3L1459.9 1339.4L1461.2 1341.4L1462.4 1343.3L1463.7 1345.2L1464.9 1347.1L1466.2 1348.9L1467.4 1350.7L1468.6 1352.4L1469.9 1354.1L1471.1 1355.6L1472.4 1357L1473.6 1358.1L1474.9 1359L1476.1 1359.6L1477.4 1359.9L1478.6 1359.8L1479.9 1359.7L1481.1 1359.5L1482.4 1359.3L1483.6 1359L1484.8 1358.7L1486.1 1358.5L1487.3 1358.3L1488.6 1358.4L1489.8 1358.6L1491.1 1359.2L1492.3 1359.9L1493.6 1360.7L1494.8 1361.5L1496.1 1362.4L1497.3 1363.3L1498.6 1364.4L1499.8 1365.4L1501.1 1366.4L1502.3 1367.2L1503.5 1368L1504.8 1368.5L1506 1368.8L1507.3 1368.8L1508.5 1368.8L1509.8 1368.8L1508.5 1368.8L1507.3 1368.8L1506 1368.8L1504.8 1369.1L1503.5 1369.6L1502.3 1370.4L1501.1 1371.2L1499.8 1372.2L1498.6 1373.2L1497.3 1374.3L1496.1 1375.2L1494.8 1376.1L1493.6 1376.9L1492.3 1377.7L1491.1 1378.4L1489.8 1379L1488.6 1379.2L1487.3 1379.3L1486.1 1379.1L1484.8 1378.9L1483.6 1378.6L1482.4 1378.3L1481.1 1378.1L1479.9 1377.9L1478.6 1377.8L1477.4 1377.7L1476.1 1378L1474.9 1378.6L1473.6 1379.5L1472.4 1380.6L1471.1 1382L1469.9 1383.5L1468.6 1385.2L1467.4 1386.9L1466.2 1388.7L1464.9 1390.5L1463.7 1392.4L1462.4 1394.3L1461.2 1396.2L1459.9 1398.2L1458.7 1400.3L1457.4 1402.3L1456.2 1404.3L1454.9 1406.3L1453.7 1408.1L1452.4 1409.9L1451.2 1411.6L1450 1413.1L1448.7 1414.2L1447.5 1415.1L1446.2 1415.7L1445 1416.2L1443.7 1416.4L1442.5 1416.4L1441.2 1416.1L1440 1415.6L1438.7 1415L1437.5 1414.2L1436.2 1413.3L1435 1412.3L1433.8 1411.2L1432.5 1410.1L1431.3 1408.9L1430 1407.7L1428.8 1406.5L1427.5 1405.4L1426.3 1404.2L1425 1403.1L1423.8 1402L1422.5 1401L1421.3 1400L1420 1399L1418.8 1398.1L1417.5 1397.2L1416.3 1396.2L1415.1 1395.3L1413.8 1394.4L1412.6 1393.7L1411.3 1393.3L1410.1 1393.4L1408.8 1393.9L1407.6 1394.7L1406.3 1395.8L1405.1 1397L1403.8 1398.4L1402.6 1399.9L1401.3 1401.7L1400.1 1403.6L1398.9 1405.3L1397.6 1406.8L1396.4 1407.9L1395.1 1408.9L1393.9 1409.8L1392.6 1410.4L1391.4 1410.6L1390.1 1410.6L1388.9 1410.3L1387.6 1409.8L1386.4 1409.2L1385.1 1408.4L1383.9 1407.5L1382.7 1406.4L1381.4 1404.8L1380.2 1403L1378.9 1401L1377.7 1399L1376.4 1396.9L1375.2 1394.6L1373.9 1392.4L1372.7 1390.2L1371.4 1388.3L1370.2 1386.7L1368.9 1385.2L1367.7 1383.8L1366.5 1382.5L1365.2 1381.3L1364 1380.1L1362.7 1378.9L1361.5 1377.8L1360.2 1376.7L1359 1375.7L1357.7 1374.8L1356.5 1373.9L1355.2 1373.1L1354 1372.3L1352.7 1371.6L1351.5 1370.9L1350.2 1370.3L1349 1369.7L1347.8 1369.2L1346.5 1368.9L1345.3 1368.8L1344 1368.8L1342.8 1368.8Z" fill="#ede8ca" stroke="#3a3a3a" stroke-width="3.6" stroke-linejoin="round"/>
<line x1="1393.8" y1="1329.1" x2="1393.8" y2="1408.5" stroke="#0a0a0a" stroke-width="1.6" stroke-dasharray="1.7 3.5"/>
<line x1="1422.3" y1="1338.1" x2="1422.3" y2="1399.5" stroke="#0a0a0a" stroke-width="1.8" stroke-dasharray="5 3.2"/>
<line x1="1450.8" y1="1326.8" x2="1450.8" y2="1410.8" stroke="#0a0a0a" stroke-width="1.6" stroke-dasharray="1.7 3.5"/>
<line x1="1560.2" y1="1216.8" x2="1560.2" y2="1370.7" stroke="#3c3c3c" stroke-width="3.5"/>
<line x1="1397" y1="1218.8" x2="1562" y2="1218.8" stroke="#3c3c3c" stroke-width="4"/>
<line x1="1539" y1="1368.8" x2="1562" y2="1368.8" stroke="#3c3c3c" stroke-width="3.8"/>
<text transform="translate(1567.8 1268.3) rotate(90) scale(0.95 1.04)" font-family="DejaVu Sans, Liberation Sans, sans-serif" font-weight="700" font-size="24.2" letter-spacing="5.34" fill="#000" stroke="#000" stroke-width="0.7">****</text>
</g>
</svg>
</body>
</html>
